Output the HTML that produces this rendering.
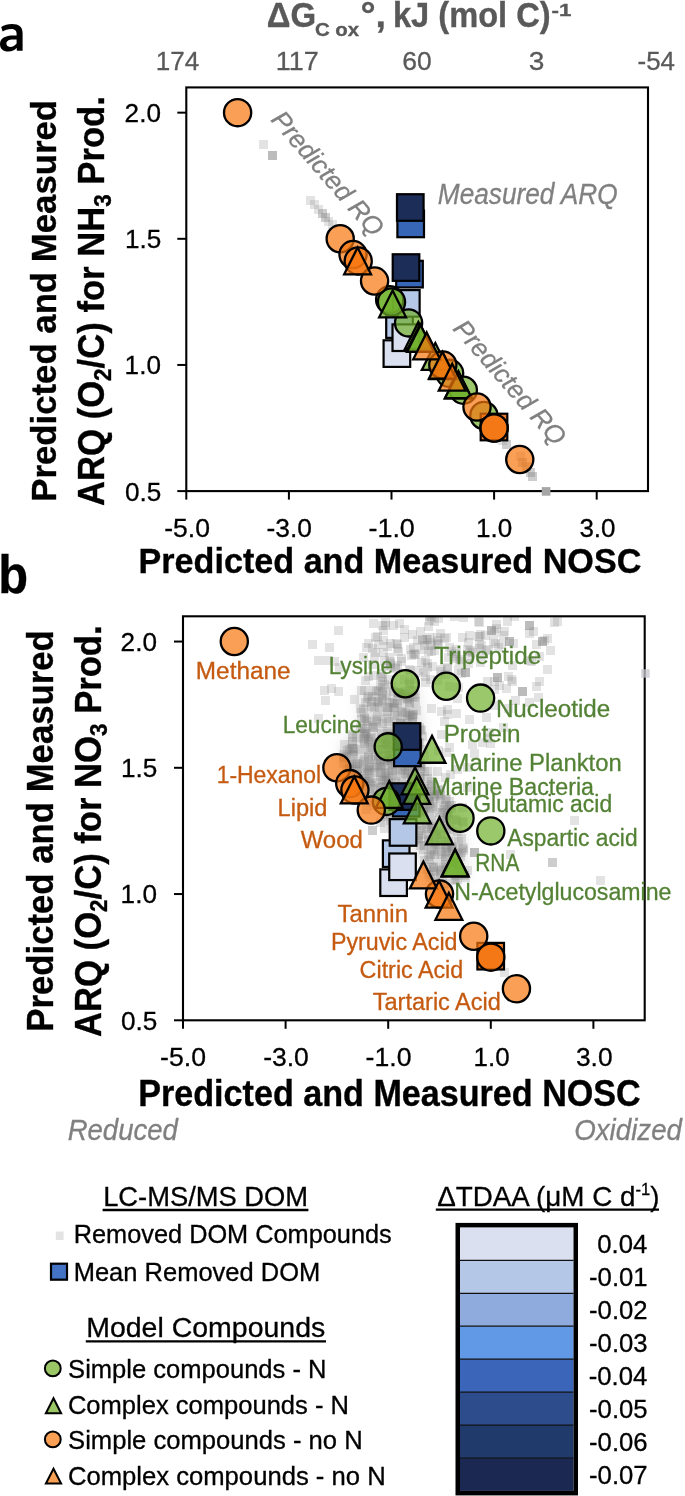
<!DOCTYPE html>
<html><head><meta charset="utf-8"><style>html,body{margin:0;padding:0;background:#fff;}svg{display:block;will-change:transform;}</style></head><body>
<svg width="685" height="1496" viewBox="0 0 685 1496" font-family="'Liberation Sans', sans-serif" style="white-space:pre">
<defs><clipPath id="ca"><rect x="186.30" y="87.42" width="461.70" height="403.68"/></clipPath><clipPath id="cb"><rect x="183.00" y="616.30" width="461.70" height="404.00"/></clipPath><filter id="bl" x="-20%" y="-20%" width="140%" height="140%"><feGaussianBlur stdDeviation="7"/></filter></defs>
<g clip-path="url(#ca)"><rect x="259" y="140" width="9" height="9" fill="#7f7f7f" fill-opacity="0.22"/>
<rect x="268" y="151" width="9" height="9" fill="#7f7f7f" fill-opacity="0.22"/>
<rect x="268" y="151" width="9" height="9" fill="#7f7f7f" fill-opacity="0.22"/>
<rect x="268" y="151" width="9" height="9" fill="#7f7f7f" fill-opacity="0.22"/>
<rect x="306" y="196" width="9" height="9" fill="#7f7f7f" fill-opacity="0.22"/>
<rect x="310" y="200" width="9" height="9" fill="#7f7f7f" fill-opacity="0.22"/>
<rect x="314" y="205" width="9" height="9" fill="#7f7f7f" fill-opacity="0.22"/>
<rect x="318" y="209" width="9" height="9" fill="#7f7f7f" fill-opacity="0.22"/>
<rect x="318" y="209" width="9" height="9" fill="#7f7f7f" fill-opacity="0.22"/>
<rect x="321" y="213" width="9" height="9" fill="#7f7f7f" fill-opacity="0.22"/>
<rect x="321" y="213" width="9" height="9" fill="#7f7f7f" fill-opacity="0.22"/>
<rect x="324" y="217" width="9" height="9" fill="#7f7f7f" fill-opacity="0.22"/>
<rect x="328" y="220" width="9" height="9" fill="#7f7f7f" fill-opacity="0.22"/>
<rect x="516" y="452" width="9" height="9" fill="#7f7f7f" fill-opacity="0.22"/>
<rect x="518" y="458" width="9" height="9" fill="#7f7f7f" fill-opacity="0.22"/>
<rect x="518" y="458" width="9" height="9" fill="#7f7f7f" fill-opacity="0.22"/>
<rect x="522" y="462" width="9" height="9" fill="#7f7f7f" fill-opacity="0.22"/>
<rect x="522" y="462" width="9" height="9" fill="#7f7f7f" fill-opacity="0.22"/>
<rect x="526" y="468" width="9" height="9" fill="#7f7f7f" fill-opacity="0.22"/>
<rect x="526" y="468" width="9" height="9" fill="#7f7f7f" fill-opacity="0.22"/>
<rect x="528" y="472" width="9" height="9" fill="#7f7f7f" fill-opacity="0.22"/>
<rect x="528" y="472" width="9" height="9" fill="#7f7f7f" fill-opacity="0.22"/>
<rect x="502" y="440" width="9" height="9" fill="#7f7f7f" fill-opacity="0.22"/>
<rect x="502" y="440" width="9" height="9" fill="#7f7f7f" fill-opacity="0.22"/>
<rect x="498" y="436" width="9" height="9" fill="#7f7f7f" fill-opacity="0.22"/></g>
<g clip-path="url(#cb)"><polygon points="360,690 416,688 428,770 462,820 466,878 435,887 412,845 382,812 352,788 342,768 342,745 360,728" fill="#8a8a8a" fill-opacity="0.28" filter="url(#bl)"/><rect x="394" y="795" width="9" height="9" fill="#7f7f7f" fill-opacity="0.22"/>
<rect x="400" y="800" width="9" height="9" fill="#7f7f7f" fill-opacity="0.22"/>
<rect x="360" y="785" width="9" height="9" fill="#7f7f7f" fill-opacity="0.22"/>
<rect x="416" y="841" width="9" height="9" fill="#7f7f7f" fill-opacity="0.22"/>
<rect x="349" y="744" width="9" height="9" fill="#7f7f7f" fill-opacity="0.22"/>
<rect x="419" y="806" width="9" height="9" fill="#7f7f7f" fill-opacity="0.22"/>
<rect x="357" y="686" width="9" height="9" fill="#7f7f7f" fill-opacity="0.22"/>
<rect x="403" y="695" width="9" height="9" fill="#7f7f7f" fill-opacity="0.22"/>
<rect x="361" y="732" width="9" height="9" fill="#7f7f7f" fill-opacity="0.22"/>
<rect x="402" y="811" width="9" height="9" fill="#7f7f7f" fill-opacity="0.22"/>
<rect x="399" y="815" width="9" height="9" fill="#7f7f7f" fill-opacity="0.22"/>
<rect x="394" y="739" width="9" height="9" fill="#7f7f7f" fill-opacity="0.22"/>
<rect x="442" y="824" width="9" height="9" fill="#7f7f7f" fill-opacity="0.22"/>
<rect x="377" y="729" width="9" height="9" fill="#7f7f7f" fill-opacity="0.22"/>
<rect x="373" y="697" width="9" height="9" fill="#7f7f7f" fill-opacity="0.22"/>
<rect x="456" y="852" width="9" height="9" fill="#7f7f7f" fill-opacity="0.22"/>
<rect x="348" y="750" width="9" height="9" fill="#7f7f7f" fill-opacity="0.22"/>
<rect x="457" y="834" width="9" height="9" fill="#7f7f7f" fill-opacity="0.22"/>
<rect x="352" y="733" width="9" height="9" fill="#7f7f7f" fill-opacity="0.22"/>
<rect x="407" y="773" width="9" height="9" fill="#7f7f7f" fill-opacity="0.22"/>
<rect x="352" y="767" width="9" height="9" fill="#7f7f7f" fill-opacity="0.22"/>
<rect x="364" y="737" width="9" height="9" fill="#7f7f7f" fill-opacity="0.22"/>
<rect x="458" y="843" width="9" height="9" fill="#7f7f7f" fill-opacity="0.22"/>
<rect x="364" y="762" width="9" height="9" fill="#7f7f7f" fill-opacity="0.22"/>
<rect x="443" y="811" width="9" height="9" fill="#7f7f7f" fill-opacity="0.22"/>
<rect x="364" y="735" width="9" height="9" fill="#7f7f7f" fill-opacity="0.22"/>
<rect x="374" y="698" width="9" height="9" fill="#7f7f7f" fill-opacity="0.22"/>
<rect x="384" y="774" width="9" height="9" fill="#7f7f7f" fill-opacity="0.22"/>
<rect x="360" y="714" width="9" height="9" fill="#7f7f7f" fill-opacity="0.22"/>
<rect x="450" y="846" width="9" height="9" fill="#7f7f7f" fill-opacity="0.22"/>
<rect x="368" y="721" width="9" height="9" fill="#7f7f7f" fill-opacity="0.22"/>
<rect x="429" y="871" width="9" height="9" fill="#7f7f7f" fill-opacity="0.22"/>
<rect x="447" y="804" width="9" height="9" fill="#7f7f7f" fill-opacity="0.22"/>
<rect x="390" y="704" width="9" height="9" fill="#7f7f7f" fill-opacity="0.22"/>
<rect x="411" y="742" width="9" height="9" fill="#7f7f7f" fill-opacity="0.22"/>
<rect x="414" y="739" width="9" height="9" fill="#7f7f7f" fill-opacity="0.22"/>
<rect x="393" y="696" width="9" height="9" fill="#7f7f7f" fill-opacity="0.22"/>
<rect x="359" y="757" width="9" height="9" fill="#7f7f7f" fill-opacity="0.22"/>
<rect x="408" y="710" width="9" height="9" fill="#7f7f7f" fill-opacity="0.22"/>
<rect x="423" y="800" width="9" height="9" fill="#7f7f7f" fill-opacity="0.22"/>
<rect x="397" y="829" width="9" height="9" fill="#7f7f7f" fill-opacity="0.22"/>
<rect x="429" y="863" width="9" height="9" fill="#7f7f7f" fill-opacity="0.22"/>
<rect x="429" y="824" width="9" height="9" fill="#7f7f7f" fill-opacity="0.22"/>
<rect x="436" y="866" width="9" height="9" fill="#7f7f7f" fill-opacity="0.22"/>
<rect x="449" y="857" width="9" height="9" fill="#7f7f7f" fill-opacity="0.22"/>
<rect x="445" y="797" width="9" height="9" fill="#7f7f7f" fill-opacity="0.22"/>
<rect x="415" y="760" width="9" height="9" fill="#7f7f7f" fill-opacity="0.22"/>
<rect x="410" y="805" width="9" height="9" fill="#7f7f7f" fill-opacity="0.22"/>
<rect x="429" y="799" width="9" height="9" fill="#7f7f7f" fill-opacity="0.22"/>
<rect x="397" y="729" width="9" height="9" fill="#7f7f7f" fill-opacity="0.22"/>
<rect x="424" y="782" width="9" height="9" fill="#7f7f7f" fill-opacity="0.22"/>
<rect x="369" y="686" width="9" height="9" fill="#7f7f7f" fill-opacity="0.22"/>
<rect x="363" y="717" width="9" height="9" fill="#7f7f7f" fill-opacity="0.22"/>
<rect x="450" y="815" width="9" height="9" fill="#7f7f7f" fill-opacity="0.22"/>
<rect x="362" y="769" width="9" height="9" fill="#7f7f7f" fill-opacity="0.22"/>
<rect x="437" y="865" width="9" height="9" fill="#7f7f7f" fill-opacity="0.22"/>
<rect x="410" y="746" width="9" height="9" fill="#7f7f7f" fill-opacity="0.22"/>
<rect x="354" y="782" width="9" height="9" fill="#7f7f7f" fill-opacity="0.22"/>
<rect x="441" y="852" width="9" height="9" fill="#7f7f7f" fill-opacity="0.22"/>
<rect x="426" y="873" width="9" height="9" fill="#7f7f7f" fill-opacity="0.22"/>
<rect x="372" y="717" width="9" height="9" fill="#7f7f7f" fill-opacity="0.22"/>
<rect x="393" y="738" width="9" height="9" fill="#7f7f7f" fill-opacity="0.22"/>
<rect x="364" y="766" width="9" height="9" fill="#7f7f7f" fill-opacity="0.22"/>
<rect x="415" y="782" width="9" height="9" fill="#7f7f7f" fill-opacity="0.22"/>
<rect x="425" y="797" width="9" height="9" fill="#7f7f7f" fill-opacity="0.22"/>
<rect x="394" y="688" width="9" height="9" fill="#7f7f7f" fill-opacity="0.22"/>
<rect x="416" y="772" width="9" height="9" fill="#7f7f7f" fill-opacity="0.22"/>
<rect x="416" y="814" width="9" height="9" fill="#7f7f7f" fill-opacity="0.22"/>
<rect x="438" y="874" width="9" height="9" fill="#7f7f7f" fill-opacity="0.22"/>
<rect x="396" y="719" width="9" height="9" fill="#7f7f7f" fill-opacity="0.22"/>
<rect x="371" y="752" width="9" height="9" fill="#7f7f7f" fill-opacity="0.22"/>
<rect x="424" y="787" width="9" height="9" fill="#7f7f7f" fill-opacity="0.22"/>
<rect x="414" y="834" width="9" height="9" fill="#7f7f7f" fill-opacity="0.22"/>
<rect x="453" y="827" width="9" height="9" fill="#7f7f7f" fill-opacity="0.22"/>
<rect x="354" y="774" width="9" height="9" fill="#7f7f7f" fill-opacity="0.22"/>
<rect x="384" y="797" width="9" height="9" fill="#7f7f7f" fill-opacity="0.22"/>
<rect x="447" y="842" width="9" height="9" fill="#7f7f7f" fill-opacity="0.22"/>
<rect x="427" y="846" width="9" height="9" fill="#7f7f7f" fill-opacity="0.22"/>
<rect x="417" y="826" width="9" height="9" fill="#7f7f7f" fill-opacity="0.22"/>
<rect x="348" y="771" width="9" height="9" fill="#7f7f7f" fill-opacity="0.22"/>
<rect x="406" y="836" width="9" height="9" fill="#7f7f7f" fill-opacity="0.22"/>
<rect x="398" y="689" width="9" height="9" fill="#7f7f7f" fill-opacity="0.22"/>
<rect x="402" y="827" width="9" height="9" fill="#7f7f7f" fill-opacity="0.22"/>
<rect x="442" y="821" width="9" height="9" fill="#7f7f7f" fill-opacity="0.22"/>
<rect x="365" y="788" width="9" height="9" fill="#7f7f7f" fill-opacity="0.22"/>
<rect x="417" y="788" width="9" height="9" fill="#7f7f7f" fill-opacity="0.22"/>
<rect x="442" y="795" width="9" height="9" fill="#7f7f7f" fill-opacity="0.22"/>
<rect x="376" y="759" width="9" height="9" fill="#7f7f7f" fill-opacity="0.22"/>
<rect x="442" y="863" width="9" height="9" fill="#7f7f7f" fill-opacity="0.22"/>
<rect x="409" y="723" width="9" height="9" fill="#7f7f7f" fill-opacity="0.22"/>
<rect x="404" y="784" width="9" height="9" fill="#7f7f7f" fill-opacity="0.22"/>
<rect x="407" y="781" width="9" height="9" fill="#7f7f7f" fill-opacity="0.22"/>
<rect x="404" y="766" width="9" height="9" fill="#7f7f7f" fill-opacity="0.22"/>
<rect x="456" y="867" width="9" height="9" fill="#7f7f7f" fill-opacity="0.22"/>
<rect x="371" y="778" width="9" height="9" fill="#7f7f7f" fill-opacity="0.22"/>
<rect x="353" y="770" width="9" height="9" fill="#7f7f7f" fill-opacity="0.22"/>
<rect x="439" y="863" width="9" height="9" fill="#7f7f7f" fill-opacity="0.22"/>
<rect x="397" y="747" width="9" height="9" fill="#7f7f7f" fill-opacity="0.22"/>
<rect x="362" y="729" width="9" height="9" fill="#7f7f7f" fill-opacity="0.22"/>
<rect x="382" y="807" width="9" height="9" fill="#7f7f7f" fill-opacity="0.22"/>
<rect x="353" y="785" width="9" height="9" fill="#7f7f7f" fill-opacity="0.22"/>
<rect x="369" y="723" width="9" height="9" fill="#7f7f7f" fill-opacity="0.22"/>
<rect x="403" y="770" width="9" height="9" fill="#7f7f7f" fill-opacity="0.22"/>
<rect x="384" y="766" width="9" height="9" fill="#7f7f7f" fill-opacity="0.22"/>
<rect x="403" y="715" width="9" height="9" fill="#7f7f7f" fill-opacity="0.22"/>
<rect x="417" y="789" width="9" height="9" fill="#7f7f7f" fill-opacity="0.22"/>
<rect x="443" y="805" width="9" height="9" fill="#7f7f7f" fill-opacity="0.22"/>
<rect x="429" y="845" width="9" height="9" fill="#7f7f7f" fill-opacity="0.22"/>
<rect x="370" y="703" width="9" height="9" fill="#7f7f7f" fill-opacity="0.22"/>
<rect x="422" y="865" width="9" height="9" fill="#7f7f7f" fill-opacity="0.22"/>
<rect x="400" y="820" width="9" height="9" fill="#7f7f7f" fill-opacity="0.22"/>
<rect x="361" y="698" width="9" height="9" fill="#7f7f7f" fill-opacity="0.22"/>
<rect x="406" y="786" width="9" height="9" fill="#7f7f7f" fill-opacity="0.22"/>
<rect x="408" y="713" width="9" height="9" fill="#7f7f7f" fill-opacity="0.22"/>
<rect x="360" y="724" width="9" height="9" fill="#7f7f7f" fill-opacity="0.22"/>
<rect x="378" y="776" width="9" height="9" fill="#7f7f7f" fill-opacity="0.22"/>
<rect x="401" y="769" width="9" height="9" fill="#7f7f7f" fill-opacity="0.22"/>
<rect x="424" y="852" width="9" height="9" fill="#7f7f7f" fill-opacity="0.22"/>
<rect x="360" y="774" width="9" height="9" fill="#7f7f7f" fill-opacity="0.22"/>
<rect x="362" y="716" width="9" height="9" fill="#7f7f7f" fill-opacity="0.22"/>
<rect x="401" y="687" width="9" height="9" fill="#7f7f7f" fill-opacity="0.22"/>
<rect x="448" y="843" width="9" height="9" fill="#7f7f7f" fill-opacity="0.22"/>
<rect x="425" y="855" width="9" height="9" fill="#7f7f7f" fill-opacity="0.22"/>
<rect x="416" y="764" width="9" height="9" fill="#7f7f7f" fill-opacity="0.22"/>
<rect x="412" y="784" width="9" height="9" fill="#7f7f7f" fill-opacity="0.22"/>
<rect x="459" y="844" width="9" height="9" fill="#7f7f7f" fill-opacity="0.22"/>
<rect x="430" y="838" width="9" height="9" fill="#7f7f7f" fill-opacity="0.22"/>
<rect x="449" y="859" width="9" height="9" fill="#7f7f7f" fill-opacity="0.22"/>
<rect x="424" y="836" width="9" height="9" fill="#7f7f7f" fill-opacity="0.22"/>
<rect x="380" y="777" width="9" height="9" fill="#7f7f7f" fill-opacity="0.22"/>
<rect x="339" y="754" width="9" height="9" fill="#7f7f7f" fill-opacity="0.22"/>
<rect x="417" y="808" width="9" height="9" fill="#7f7f7f" fill-opacity="0.22"/>
<rect x="420" y="751" width="9" height="9" fill="#7f7f7f" fill-opacity="0.22"/>
<rect x="419" y="797" width="9" height="9" fill="#7f7f7f" fill-opacity="0.22"/>
<rect x="404" y="761" width="9" height="9" fill="#7f7f7f" fill-opacity="0.22"/>
<rect x="424" y="835" width="9" height="9" fill="#7f7f7f" fill-opacity="0.22"/>
<rect x="414" y="831" width="9" height="9" fill="#7f7f7f" fill-opacity="0.22"/>
<rect x="369" y="763" width="9" height="9" fill="#7f7f7f" fill-opacity="0.22"/>
<rect x="384" y="703" width="9" height="9" fill="#7f7f7f" fill-opacity="0.22"/>
<rect x="406" y="785" width="9" height="9" fill="#7f7f7f" fill-opacity="0.22"/>
<rect x="412" y="835" width="9" height="9" fill="#7f7f7f" fill-opacity="0.22"/>
<rect x="357" y="777" width="9" height="9" fill="#7f7f7f" fill-opacity="0.22"/>
<rect x="358" y="782" width="9" height="9" fill="#7f7f7f" fill-opacity="0.22"/>
<rect x="403" y="802" width="9" height="9" fill="#7f7f7f" fill-opacity="0.22"/>
<rect x="383" y="740" width="9" height="9" fill="#7f7f7f" fill-opacity="0.22"/>
<rect x="419" y="795" width="9" height="9" fill="#7f7f7f" fill-opacity="0.22"/>
<rect x="374" y="686" width="9" height="9" fill="#7f7f7f" fill-opacity="0.22"/>
<rect x="368" y="692" width="9" height="9" fill="#7f7f7f" fill-opacity="0.22"/>
<rect x="460" y="871" width="9" height="9" fill="#7f7f7f" fill-opacity="0.22"/>
<rect x="391" y="779" width="9" height="9" fill="#7f7f7f" fill-opacity="0.22"/>
<rect x="427" y="777" width="9" height="9" fill="#7f7f7f" fill-opacity="0.22"/>
<rect x="459" y="846" width="9" height="9" fill="#7f7f7f" fill-opacity="0.22"/>
<rect x="412" y="706" width="9" height="9" fill="#7f7f7f" fill-opacity="0.22"/>
<rect x="415" y="774" width="9" height="9" fill="#7f7f7f" fill-opacity="0.22"/>
<rect x="363" y="694" width="9" height="9" fill="#7f7f7f" fill-opacity="0.22"/>
<rect x="403" y="708" width="9" height="9" fill="#7f7f7f" fill-opacity="0.22"/>
<rect x="392" y="816" width="9" height="9" fill="#7f7f7f" fill-opacity="0.22"/>
<rect x="394" y="736" width="9" height="9" fill="#7f7f7f" fill-opacity="0.22"/>
<rect x="410" y="767" width="9" height="9" fill="#7f7f7f" fill-opacity="0.22"/>
<rect x="434" y="789" width="9" height="9" fill="#7f7f7f" fill-opacity="0.22"/>
<rect x="461" y="873" width="9" height="9" fill="#7f7f7f" fill-opacity="0.22"/>
<rect x="435" y="808" width="9" height="9" fill="#7f7f7f" fill-opacity="0.22"/>
<rect x="382" y="738" width="9" height="9" fill="#7f7f7f" fill-opacity="0.22"/>
<rect x="422" y="796" width="9" height="9" fill="#7f7f7f" fill-opacity="0.22"/>
<rect x="411" y="809" width="9" height="9" fill="#7f7f7f" fill-opacity="0.22"/>
<rect x="451" y="858" width="9" height="9" fill="#7f7f7f" fill-opacity="0.22"/>
<rect x="371" y="768" width="9" height="9" fill="#7f7f7f" fill-opacity="0.22"/>
<rect x="405" y="698" width="9" height="9" fill="#7f7f7f" fill-opacity="0.22"/>
<rect x="406" y="809" width="9" height="9" fill="#7f7f7f" fill-opacity="0.22"/>
<rect x="384" y="779" width="9" height="9" fill="#7f7f7f" fill-opacity="0.22"/>
<rect x="364" y="752" width="9" height="9" fill="#7f7f7f" fill-opacity="0.22"/>
<rect x="430" y="850" width="9" height="9" fill="#7f7f7f" fill-opacity="0.22"/>
<rect x="438" y="808" width="9" height="9" fill="#7f7f7f" fill-opacity="0.22"/>
<rect x="390" y="735" width="9" height="9" fill="#7f7f7f" fill-opacity="0.22"/>
<rect x="378" y="793" width="9" height="9" fill="#7f7f7f" fill-opacity="0.22"/>
<rect x="430" y="867" width="9" height="9" fill="#7f7f7f" fill-opacity="0.22"/>
<rect x="391" y="757" width="9" height="9" fill="#7f7f7f" fill-opacity="0.22"/>
<rect x="407" y="780" width="9" height="9" fill="#7f7f7f" fill-opacity="0.22"/>
<rect x="348" y="744" width="9" height="9" fill="#7f7f7f" fill-opacity="0.22"/>
<rect x="427" y="822" width="9" height="9" fill="#7f7f7f" fill-opacity="0.22"/>
<rect x="373" y="712" width="9" height="9" fill="#7f7f7f" fill-opacity="0.22"/>
<rect x="383" y="707" width="9" height="9" fill="#7f7f7f" fill-opacity="0.22"/>
<rect x="425" y="797" width="9" height="9" fill="#7f7f7f" fill-opacity="0.22"/>
<rect x="451" y="871" width="9" height="9" fill="#7f7f7f" fill-opacity="0.22"/>
<rect x="377" y="763" width="9" height="9" fill="#7f7f7f" fill-opacity="0.22"/>
<rect x="453" y="862" width="9" height="9" fill="#7f7f7f" fill-opacity="0.22"/>
<rect x="368" y="755" width="9" height="9" fill="#7f7f7f" fill-opacity="0.22"/>
<rect x="383" y="756" width="9" height="9" fill="#7f7f7f" fill-opacity="0.22"/>
<rect x="387" y="761" width="9" height="9" fill="#7f7f7f" fill-opacity="0.22"/>
<rect x="436" y="791" width="9" height="9" fill="#7f7f7f" fill-opacity="0.22"/>
<rect x="441" y="795" width="9" height="9" fill="#7f7f7f" fill-opacity="0.22"/>
<rect x="405" y="796" width="9" height="9" fill="#7f7f7f" fill-opacity="0.22"/>
<rect x="429" y="862" width="9" height="9" fill="#7f7f7f" fill-opacity="0.22"/>
<rect x="418" y="732" width="9" height="9" fill="#7f7f7f" fill-opacity="0.22"/>
<rect x="386" y="751" width="9" height="9" fill="#7f7f7f" fill-opacity="0.22"/>
<rect x="458" y="817" width="9" height="9" fill="#7f7f7f" fill-opacity="0.22"/>
<rect x="399" y="790" width="9" height="9" fill="#7f7f7f" fill-opacity="0.22"/>
<rect x="427" y="824" width="9" height="9" fill="#7f7f7f" fill-opacity="0.22"/>
<rect x="440" y="816" width="9" height="9" fill="#7f7f7f" fill-opacity="0.22"/>
<rect x="443" y="844" width="9" height="9" fill="#7f7f7f" fill-opacity="0.22"/>
<rect x="441" y="860" width="9" height="9" fill="#7f7f7f" fill-opacity="0.22"/>
<rect x="402" y="825" width="9" height="9" fill="#7f7f7f" fill-opacity="0.22"/>
<rect x="390" y="713" width="9" height="9" fill="#7f7f7f" fill-opacity="0.22"/>
<rect x="384" y="717" width="9" height="9" fill="#7f7f7f" fill-opacity="0.22"/>
<rect x="363" y="768" width="9" height="9" fill="#7f7f7f" fill-opacity="0.22"/>
<rect x="345" y="745" width="9" height="9" fill="#7f7f7f" fill-opacity="0.22"/>
<rect x="345" y="775" width="9" height="9" fill="#7f7f7f" fill-opacity="0.22"/>
<rect x="360" y="727" width="9" height="9" fill="#7f7f7f" fill-opacity="0.22"/>
<rect x="411" y="728" width="9" height="9" fill="#7f7f7f" fill-opacity="0.22"/>
<rect x="360" y="739" width="9" height="9" fill="#7f7f7f" fill-opacity="0.22"/>
<rect x="376" y="793" width="9" height="9" fill="#7f7f7f" fill-opacity="0.22"/>
<rect x="397" y="727" width="9" height="9" fill="#7f7f7f" fill-opacity="0.22"/>
<rect x="403" y="786" width="9" height="9" fill="#7f7f7f" fill-opacity="0.22"/>
<rect x="426" y="804" width="9" height="9" fill="#7f7f7f" fill-opacity="0.22"/>
<rect x="357" y="715" width="9" height="9" fill="#7f7f7f" fill-opacity="0.22"/>
<rect x="377" y="735" width="9" height="9" fill="#7f7f7f" fill-opacity="0.22"/>
<rect x="371" y="790" width="9" height="9" fill="#7f7f7f" fill-opacity="0.22"/>
<rect x="442" y="847" width="9" height="9" fill="#7f7f7f" fill-opacity="0.22"/>
<rect x="348" y="737" width="9" height="9" fill="#7f7f7f" fill-opacity="0.22"/>
<rect x="397" y="777" width="9" height="9" fill="#7f7f7f" fill-opacity="0.22"/>
<rect x="405" y="788" width="9" height="9" fill="#7f7f7f" fill-opacity="0.22"/>
<rect x="376" y="745" width="9" height="9" fill="#7f7f7f" fill-opacity="0.22"/>
<rect x="347" y="744" width="9" height="9" fill="#7f7f7f" fill-opacity="0.22"/>
<rect x="395" y="826" width="9" height="9" fill="#7f7f7f" fill-opacity="0.22"/>
<rect x="351" y="762" width="9" height="9" fill="#7f7f7f" fill-opacity="0.22"/>
<rect x="440" y="814" width="9" height="9" fill="#7f7f7f" fill-opacity="0.22"/>
<rect x="339" y="759" width="9" height="9" fill="#7f7f7f" fill-opacity="0.22"/>
<rect x="407" y="775" width="9" height="9" fill="#7f7f7f" fill-opacity="0.22"/>
<rect x="414" y="741" width="9" height="9" fill="#7f7f7f" fill-opacity="0.22"/>
<rect x="384" y="791" width="9" height="9" fill="#7f7f7f" fill-opacity="0.22"/>
<rect x="374" y="751" width="9" height="9" fill="#7f7f7f" fill-opacity="0.22"/>
<rect x="386" y="816" width="9" height="9" fill="#7f7f7f" fill-opacity="0.22"/>
<rect x="369" y="723" width="9" height="9" fill="#7f7f7f" fill-opacity="0.22"/>
<rect x="422" y="824" width="9" height="9" fill="#7f7f7f" fill-opacity="0.22"/>
<rect x="360" y="764" width="9" height="9" fill="#7f7f7f" fill-opacity="0.22"/>
<rect x="441" y="801" width="9" height="9" fill="#7f7f7f" fill-opacity="0.22"/>
<rect x="357" y="708" width="9" height="9" fill="#7f7f7f" fill-opacity="0.22"/>
<rect x="388" y="698" width="9" height="9" fill="#7f7f7f" fill-opacity="0.22"/>
<rect x="401" y="812" width="9" height="9" fill="#7f7f7f" fill-opacity="0.22"/>
<rect x="433" y="847" width="9" height="9" fill="#7f7f7f" fill-opacity="0.22"/>
<rect x="385" y="749" width="9" height="9" fill="#7f7f7f" fill-opacity="0.22"/>
<rect x="389" y="687" width="9" height="9" fill="#7f7f7f" fill-opacity="0.22"/>
<rect x="419" y="805" width="9" height="9" fill="#7f7f7f" fill-opacity="0.22"/>
<rect x="340" y="749" width="9" height="9" fill="#7f7f7f" fill-opacity="0.22"/>
<rect x="351" y="759" width="9" height="9" fill="#7f7f7f" fill-opacity="0.22"/>
<rect x="440" y="805" width="9" height="9" fill="#7f7f7f" fill-opacity="0.22"/>
<rect x="381" y="783" width="9" height="9" fill="#7f7f7f" fill-opacity="0.22"/>
<rect x="426" y="850" width="9" height="9" fill="#7f7f7f" fill-opacity="0.22"/>
<rect x="415" y="723" width="9" height="9" fill="#7f7f7f" fill-opacity="0.22"/>
<rect x="348" y="732" width="9" height="9" fill="#7f7f7f" fill-opacity="0.22"/>
<rect x="409" y="822" width="9" height="9" fill="#7f7f7f" fill-opacity="0.22"/>
<rect x="382" y="776" width="9" height="9" fill="#7f7f7f" fill-opacity="0.22"/>
<rect x="405" y="795" width="9" height="9" fill="#7f7f7f" fill-opacity="0.22"/>
<rect x="407" y="736" width="9" height="9" fill="#7f7f7f" fill-opacity="0.22"/>
<rect x="439" y="803" width="9" height="9" fill="#7f7f7f" fill-opacity="0.22"/>
<rect x="367" y="798" width="9" height="9" fill="#7f7f7f" fill-opacity="0.22"/>
<rect x="405" y="699" width="9" height="9" fill="#7f7f7f" fill-opacity="0.22"/>
<rect x="460" y="870" width="9" height="9" fill="#7f7f7f" fill-opacity="0.22"/>
<rect x="419" y="745" width="9" height="9" fill="#7f7f7f" fill-opacity="0.22"/>
<rect x="421" y="830" width="9" height="9" fill="#7f7f7f" fill-opacity="0.22"/>
<rect x="385" y="801" width="9" height="9" fill="#7f7f7f" fill-opacity="0.22"/>
<rect x="362" y="777" width="9" height="9" fill="#7f7f7f" fill-opacity="0.22"/>
<rect x="355" y="760" width="9" height="9" fill="#7f7f7f" fill-opacity="0.22"/>
<rect x="408" y="718" width="9" height="9" fill="#7f7f7f" fill-opacity="0.22"/>
<rect x="402" y="736" width="9" height="9" fill="#7f7f7f" fill-opacity="0.22"/>
<rect x="408" y="750" width="9" height="9" fill="#7f7f7f" fill-opacity="0.22"/>
<rect x="396" y="765" width="9" height="9" fill="#7f7f7f" fill-opacity="0.22"/>
<rect x="415" y="821" width="9" height="9" fill="#7f7f7f" fill-opacity="0.22"/>
<rect x="431" y="833" width="9" height="9" fill="#7f7f7f" fill-opacity="0.22"/>
<rect x="441" y="854" width="9" height="9" fill="#7f7f7f" fill-opacity="0.22"/>
<rect x="388" y="770" width="9" height="9" fill="#7f7f7f" fill-opacity="0.22"/>
<rect x="403" y="788" width="9" height="9" fill="#7f7f7f" fill-opacity="0.22"/>
<rect x="377" y="694" width="9" height="9" fill="#7f7f7f" fill-opacity="0.22"/>
<rect x="427" y="863" width="9" height="9" fill="#7f7f7f" fill-opacity="0.22"/>
<rect x="428" y="802" width="9" height="9" fill="#7f7f7f" fill-opacity="0.22"/>
<rect x="411" y="697" width="9" height="9" fill="#7f7f7f" fill-opacity="0.22"/>
<rect x="353" y="772" width="9" height="9" fill="#7f7f7f" fill-opacity="0.22"/>
<rect x="400" y="762" width="9" height="9" fill="#7f7f7f" fill-opacity="0.22"/>
<rect x="403" y="731" width="9" height="9" fill="#7f7f7f" fill-opacity="0.22"/>
<rect x="375" y="762" width="9" height="9" fill="#7f7f7f" fill-opacity="0.22"/>
<rect x="367" y="697" width="9" height="9" fill="#7f7f7f" fill-opacity="0.22"/>
<rect x="451" y="876" width="9" height="9" fill="#7f7f7f" fill-opacity="0.22"/>
<rect x="420" y="856" width="9" height="9" fill="#7f7f7f" fill-opacity="0.22"/>
<rect x="368" y="743" width="9" height="9" fill="#7f7f7f" fill-opacity="0.22"/>
<rect x="378" y="696" width="9" height="9" fill="#7f7f7f" fill-opacity="0.22"/>
<rect x="448" y="846" width="9" height="9" fill="#7f7f7f" fill-opacity="0.22"/>
<rect x="387" y="754" width="9" height="9" fill="#7f7f7f" fill-opacity="0.22"/>
<rect x="410" y="693" width="9" height="9" fill="#7f7f7f" fill-opacity="0.22"/>
<rect x="376" y="783" width="9" height="9" fill="#7f7f7f" fill-opacity="0.22"/>
<rect x="396" y="725" width="9" height="9" fill="#7f7f7f" fill-opacity="0.22"/>
<rect x="396" y="718" width="9" height="9" fill="#7f7f7f" fill-opacity="0.22"/>
<rect x="449" y="857" width="9" height="9" fill="#7f7f7f" fill-opacity="0.22"/>
<rect x="424" y="870" width="9" height="9" fill="#7f7f7f" fill-opacity="0.22"/>
<rect x="393" y="699" width="9" height="9" fill="#7f7f7f" fill-opacity="0.22"/>
<rect x="365" y="745" width="9" height="9" fill="#7f7f7f" fill-opacity="0.22"/>
<rect x="360" y="730" width="9" height="9" fill="#7f7f7f" fill-opacity="0.22"/>
<rect x="420" y="841" width="9" height="9" fill="#7f7f7f" fill-opacity="0.22"/>
<rect x="447" y="801" width="9" height="9" fill="#7f7f7f" fill-opacity="0.22"/>
<rect x="366" y="743" width="9" height="9" fill="#7f7f7f" fill-opacity="0.22"/>
<rect x="452" y="816" width="9" height="9" fill="#7f7f7f" fill-opacity="0.22"/>
<rect x="392" y="789" width="9" height="9" fill="#7f7f7f" fill-opacity="0.22"/>
<rect x="403" y="693" width="9" height="9" fill="#7f7f7f" fill-opacity="0.22"/>
<rect x="412" y="740" width="9" height="9" fill="#7f7f7f" fill-opacity="0.22"/>
<rect x="348" y="740" width="9" height="9" fill="#7f7f7f" fill-opacity="0.22"/>
<rect x="372" y="793" width="9" height="9" fill="#7f7f7f" fill-opacity="0.22"/>
<rect x="399" y="719" width="9" height="9" fill="#7f7f7f" fill-opacity="0.22"/>
<rect x="406" y="812" width="9" height="9" fill="#7f7f7f" fill-opacity="0.22"/>
<rect x="435" y="786" width="9" height="9" fill="#7f7f7f" fill-opacity="0.22"/>
<rect x="422" y="787" width="9" height="9" fill="#7f7f7f" fill-opacity="0.22"/>
<rect x="413" y="730" width="9" height="9" fill="#7f7f7f" fill-opacity="0.22"/>
<rect x="435" y="841" width="9" height="9" fill="#7f7f7f" fill-opacity="0.22"/>
<rect x="367" y="781" width="9" height="9" fill="#7f7f7f" fill-opacity="0.22"/>
<rect x="399" y="691" width="9" height="9" fill="#7f7f7f" fill-opacity="0.22"/>
<rect x="412" y="826" width="9" height="9" fill="#7f7f7f" fill-opacity="0.22"/>
<rect x="360" y="714" width="9" height="9" fill="#7f7f7f" fill-opacity="0.22"/>
<rect x="391" y="771" width="9" height="9" fill="#7f7f7f" fill-opacity="0.22"/>
<rect x="408" y="792" width="9" height="9" fill="#7f7f7f" fill-opacity="0.22"/>
<rect x="356" y="745" width="9" height="9" fill="#7f7f7f" fill-opacity="0.22"/>
<rect x="343" y="746" width="9" height="9" fill="#7f7f7f" fill-opacity="0.22"/>
<rect x="415" y="788" width="9" height="9" fill="#7f7f7f" fill-opacity="0.22"/>
<rect x="370" y="801" width="9" height="9" fill="#7f7f7f" fill-opacity="0.22"/>
<rect x="359" y="734" width="9" height="9" fill="#7f7f7f" fill-opacity="0.22"/>
<rect x="441" y="840" width="9" height="9" fill="#7f7f7f" fill-opacity="0.22"/>
<rect x="345" y="765" width="9" height="9" fill="#7f7f7f" fill-opacity="0.22"/>
<rect x="383" y="727" width="9" height="9" fill="#7f7f7f" fill-opacity="0.22"/>
<rect x="386" y="743" width="9" height="9" fill="#7f7f7f" fill-opacity="0.22"/>
<rect x="390" y="699" width="9" height="9" fill="#7f7f7f" fill-opacity="0.22"/>
<rect x="432" y="830" width="9" height="9" fill="#7f7f7f" fill-opacity="0.22"/>
<rect x="366" y="734" width="9" height="9" fill="#7f7f7f" fill-opacity="0.22"/>
<rect x="406" y="732" width="9" height="9" fill="#7f7f7f" fill-opacity="0.22"/>
<rect x="383" y="751" width="9" height="9" fill="#7f7f7f" fill-opacity="0.22"/>
<rect x="342" y="764" width="9" height="9" fill="#7f7f7f" fill-opacity="0.22"/>
<rect x="445" y="801" width="9" height="9" fill="#7f7f7f" fill-opacity="0.22"/>
<rect x="364" y="753" width="9" height="9" fill="#7f7f7f" fill-opacity="0.22"/>
<rect x="360" y="793" width="9" height="9" fill="#7f7f7f" fill-opacity="0.22"/>
<rect x="358" y="724" width="9" height="9" fill="#7f7f7f" fill-opacity="0.22"/>
<rect x="364" y="777" width="9" height="9" fill="#7f7f7f" fill-opacity="0.22"/>
<rect x="376" y="772" width="9" height="9" fill="#7f7f7f" fill-opacity="0.22"/>
<rect x="385" y="698" width="9" height="9" fill="#7f7f7f" fill-opacity="0.22"/>
<rect x="372" y="687" width="9" height="9" fill="#7f7f7f" fill-opacity="0.22"/>
<rect x="360" y="736" width="9" height="9" fill="#7f7f7f" fill-opacity="0.22"/>
<rect x="382" y="714" width="9" height="9" fill="#7f7f7f" fill-opacity="0.22"/>
<rect x="432" y="827" width="9" height="9" fill="#7f7f7f" fill-opacity="0.22"/>
<rect x="377" y="760" width="9" height="9" fill="#7f7f7f" fill-opacity="0.22"/>
<rect x="402" y="694" width="9" height="9" fill="#7f7f7f" fill-opacity="0.22"/>
<rect x="386" y="731" width="9" height="9" fill="#7f7f7f" fill-opacity="0.22"/>
<rect x="411" y="690" width="9" height="9" fill="#7f7f7f" fill-opacity="0.22"/>
<rect x="376" y="768" width="9" height="9" fill="#7f7f7f" fill-opacity="0.22"/>
<rect x="405" y="711" width="9" height="9" fill="#7f7f7f" fill-opacity="0.22"/>
<rect x="427" y="816" width="9" height="9" fill="#7f7f7f" fill-opacity="0.22"/>
<rect x="356" y="724" width="9" height="9" fill="#7f7f7f" fill-opacity="0.22"/>
<rect x="388" y="760" width="9" height="9" fill="#7f7f7f" fill-opacity="0.22"/>
<rect x="374" y="752" width="9" height="9" fill="#7f7f7f" fill-opacity="0.22"/>
<rect x="364" y="692" width="9" height="9" fill="#7f7f7f" fill-opacity="0.22"/>
<rect x="391" y="762" width="9" height="9" fill="#7f7f7f" fill-opacity="0.22"/>
<rect x="345" y="760" width="9" height="9" fill="#7f7f7f" fill-opacity="0.22"/>
<rect x="378" y="782" width="9" height="9" fill="#7f7f7f" fill-opacity="0.22"/>
<rect x="372" y="715" width="9" height="9" fill="#7f7f7f" fill-opacity="0.22"/>
<rect x="387" y="778" width="9" height="9" fill="#7f7f7f" fill-opacity="0.22"/>
<rect x="367" y="702" width="9" height="9" fill="#7f7f7f" fill-opacity="0.22"/>
<rect x="380" y="768" width="9" height="9" fill="#7f7f7f" fill-opacity="0.22"/>
<rect x="424" y="794" width="9" height="9" fill="#7f7f7f" fill-opacity="0.22"/>
<rect x="386" y="756" width="9" height="9" fill="#7f7f7f" fill-opacity="0.22"/>
<rect x="345" y="764" width="9" height="9" fill="#7f7f7f" fill-opacity="0.22"/>
<rect x="410" y="777" width="9" height="9" fill="#7f7f7f" fill-opacity="0.22"/>
<rect x="378" y="734" width="9" height="9" fill="#7f7f7f" fill-opacity="0.22"/>
<rect x="340" y="753" width="9" height="9" fill="#7f7f7f" fill-opacity="0.22"/>
<rect x="361" y="777" width="9" height="9" fill="#7f7f7f" fill-opacity="0.22"/>
<rect x="382" y="798" width="9" height="9" fill="#7f7f7f" fill-opacity="0.22"/>
<rect x="454" y="837" width="9" height="9" fill="#7f7f7f" fill-opacity="0.22"/>
<rect x="415" y="807" width="9" height="9" fill="#7f7f7f" fill-opacity="0.22"/>
<rect x="388" y="766" width="9" height="9" fill="#7f7f7f" fill-opacity="0.22"/>
<rect x="354" y="784" width="9" height="9" fill="#7f7f7f" fill-opacity="0.22"/>
<rect x="376" y="755" width="9" height="9" fill="#7f7f7f" fill-opacity="0.22"/>
<rect x="361" y="729" width="9" height="9" fill="#7f7f7f" fill-opacity="0.22"/>
<rect x="386" y="731" width="9" height="9" fill="#7f7f7f" fill-opacity="0.22"/>
<rect x="399" y="813" width="9" height="9" fill="#7f7f7f" fill-opacity="0.22"/>
<rect x="405" y="808" width="9" height="9" fill="#7f7f7f" fill-opacity="0.22"/>
<rect x="424" y="820" width="9" height="9" fill="#7f7f7f" fill-opacity="0.22"/>
<rect x="457" y="848" width="9" height="9" fill="#7f7f7f" fill-opacity="0.22"/>
<rect x="398" y="796" width="9" height="9" fill="#7f7f7f" fill-opacity="0.22"/>
<rect x="383" y="740" width="9" height="9" fill="#7f7f7f" fill-opacity="0.22"/>
<rect x="430" y="790" width="9" height="9" fill="#7f7f7f" fill-opacity="0.22"/>
<rect x="367" y="733" width="9" height="9" fill="#7f7f7f" fill-opacity="0.22"/>
<rect x="378" y="719" width="9" height="9" fill="#7f7f7f" fill-opacity="0.22"/>
<rect x="401" y="709" width="9" height="9" fill="#7f7f7f" fill-opacity="0.22"/>
<rect x="351" y="773" width="9" height="9" fill="#7f7f7f" fill-opacity="0.22"/>
<rect x="369" y="784" width="9" height="9" fill="#7f7f7f" fill-opacity="0.22"/>
<rect x="442" y="848" width="9" height="9" fill="#7f7f7f" fill-opacity="0.22"/>
<rect x="408" y="767" width="9" height="9" fill="#7f7f7f" fill-opacity="0.22"/>
<rect x="425" y="807" width="9" height="9" fill="#7f7f7f" fill-opacity="0.22"/>
<rect x="441" y="843" width="9" height="9" fill="#7f7f7f" fill-opacity="0.22"/>
<rect x="353" y="759" width="9" height="9" fill="#7f7f7f" fill-opacity="0.22"/>
<rect x="360" y="686" width="9" height="9" fill="#7f7f7f" fill-opacity="0.22"/>
<rect x="423" y="767" width="9" height="9" fill="#7f7f7f" fill-opacity="0.22"/>
<rect x="416" y="762" width="9" height="9" fill="#7f7f7f" fill-opacity="0.22"/>
<rect x="378" y="689" width="9" height="9" fill="#7f7f7f" fill-opacity="0.22"/>
<rect x="405" y="780" width="9" height="9" fill="#7f7f7f" fill-opacity="0.22"/>
<rect x="384" y="745" width="9" height="9" fill="#7f7f7f" fill-opacity="0.22"/>
<rect x="437" y="850" width="9" height="9" fill="#7f7f7f" fill-opacity="0.22"/>
<rect x="373" y="761" width="9" height="9" fill="#7f7f7f" fill-opacity="0.22"/>
<rect x="414" y="836" width="9" height="9" fill="#7f7f7f" fill-opacity="0.22"/>
<rect x="424" y="792" width="9" height="9" fill="#7f7f7f" fill-opacity="0.22"/>
<rect x="359" y="705" width="9" height="9" fill="#7f7f7f" fill-opacity="0.22"/>
<rect x="398" y="707" width="9" height="9" fill="#7f7f7f" fill-opacity="0.22"/>
<rect x="378" y="687" width="9" height="9" fill="#7f7f7f" fill-opacity="0.22"/>
<rect x="408" y="712" width="9" height="9" fill="#7f7f7f" fill-opacity="0.22"/>
<rect x="415" y="738" width="9" height="9" fill="#7f7f7f" fill-opacity="0.22"/>
<rect x="366" y="779" width="9" height="9" fill="#7f7f7f" fill-opacity="0.22"/>
<rect x="383" y="735" width="9" height="9" fill="#7f7f7f" fill-opacity="0.22"/>
<rect x="398" y="766" width="9" height="9" fill="#7f7f7f" fill-opacity="0.22"/>
<rect x="419" y="807" width="9" height="9" fill="#7f7f7f" fill-opacity="0.22"/>
<rect x="376" y="786" width="9" height="9" fill="#7f7f7f" fill-opacity="0.22"/>
<rect x="436" y="830" width="9" height="9" fill="#7f7f7f" fill-opacity="0.22"/>
<rect x="440" y="836" width="9" height="9" fill="#7f7f7f" fill-opacity="0.22"/>
<rect x="409" y="729" width="9" height="9" fill="#7f7f7f" fill-opacity="0.22"/>
<rect x="386" y="757" width="9" height="9" fill="#7f7f7f" fill-opacity="0.22"/>
<rect x="419" y="845" width="9" height="9" fill="#7f7f7f" fill-opacity="0.22"/>
<rect x="383" y="810" width="9" height="9" fill="#7f7f7f" fill-opacity="0.22"/>
<rect x="381" y="739" width="9" height="9" fill="#7f7f7f" fill-opacity="0.22"/>
<rect x="349" y="750" width="9" height="9" fill="#7f7f7f" fill-opacity="0.22"/>
<rect x="430" y="792" width="9" height="9" fill="#7f7f7f" fill-opacity="0.22"/>
<rect x="381" y="769" width="9" height="9" fill="#7f7f7f" fill-opacity="0.22"/>
<rect x="388" y="747" width="9" height="9" fill="#7f7f7f" fill-opacity="0.22"/>
<rect x="365" y="765" width="9" height="9" fill="#7f7f7f" fill-opacity="0.22"/>
<rect x="360" y="755" width="9" height="9" fill="#7f7f7f" fill-opacity="0.22"/>
<rect x="416" y="759" width="9" height="9" fill="#7f7f7f" fill-opacity="0.22"/>
<rect x="417" y="726" width="9" height="9" fill="#7f7f7f" fill-opacity="0.22"/>
<rect x="444" y="809" width="9" height="9" fill="#7f7f7f" fill-opacity="0.22"/>
<rect x="400" y="796" width="9" height="9" fill="#7f7f7f" fill-opacity="0.22"/>
<rect x="423" y="774" width="9" height="9" fill="#7f7f7f" fill-opacity="0.22"/>
<rect x="420" y="767" width="9" height="9" fill="#7f7f7f" fill-opacity="0.22"/>
<rect x="385" y="729" width="9" height="9" fill="#7f7f7f" fill-opacity="0.22"/>
<rect x="412" y="797" width="9" height="9" fill="#7f7f7f" fill-opacity="0.22"/>
<rect x="401" y="690" width="9" height="9" fill="#7f7f7f" fill-opacity="0.22"/>
<rect x="415" y="772" width="9" height="9" fill="#7f7f7f" fill-opacity="0.22"/>
<rect x="411" y="802" width="9" height="9" fill="#7f7f7f" fill-opacity="0.22"/>
<rect x="398" y="730" width="9" height="9" fill="#7f7f7f" fill-opacity="0.22"/>
<rect x="442" y="813" width="9" height="9" fill="#7f7f7f" fill-opacity="0.22"/>
<rect x="454" y="849" width="9" height="9" fill="#7f7f7f" fill-opacity="0.22"/>
<rect x="436" y="785" width="9" height="9" fill="#7f7f7f" fill-opacity="0.22"/>
<rect x="445" y="825" width="9" height="9" fill="#7f7f7f" fill-opacity="0.22"/>
<rect x="394" y="790" width="9" height="9" fill="#7f7f7f" fill-opacity="0.22"/>
<rect x="444" y="837" width="9" height="9" fill="#7f7f7f" fill-opacity="0.22"/>
<rect x="383" y="703" width="9" height="9" fill="#7f7f7f" fill-opacity="0.22"/>
<rect x="342" y="752" width="9" height="9" fill="#7f7f7f" fill-opacity="0.22"/>
<rect x="379" y="626" width="9" height="9" fill="#7f7f7f" fill-opacity="0.22"/>
<rect x="421" y="678" width="9" height="9" fill="#7f7f7f" fill-opacity="0.22"/>
<rect x="393" y="661" width="9" height="9" fill="#7f7f7f" fill-opacity="0.22"/>
<rect x="391" y="664" width="9" height="9" fill="#7f7f7f" fill-opacity="0.22"/>
<rect x="427" y="613" width="9" height="9" fill="#7f7f7f" fill-opacity="0.22"/>
<rect x="413" y="636" width="9" height="9" fill="#7f7f7f" fill-opacity="0.22"/>
<rect x="458" y="633" width="9" height="9" fill="#7f7f7f" fill-opacity="0.22"/>
<rect x="454" y="666" width="9" height="9" fill="#7f7f7f" fill-opacity="0.22"/>
<rect x="389" y="621" width="9" height="9" fill="#7f7f7f" fill-opacity="0.22"/>
<rect x="468" y="648" width="9" height="9" fill="#7f7f7f" fill-opacity="0.22"/>
<rect x="381" y="621" width="9" height="9" fill="#7f7f7f" fill-opacity="0.22"/>
<rect x="416" y="627" width="9" height="9" fill="#7f7f7f" fill-opacity="0.22"/>
<rect x="475" y="640" width="9" height="9" fill="#7f7f7f" fill-opacity="0.22"/>
<rect x="409" y="643" width="9" height="9" fill="#7f7f7f" fill-opacity="0.22"/>
<rect x="383" y="661" width="9" height="9" fill="#7f7f7f" fill-opacity="0.22"/>
<rect x="426" y="675" width="9" height="9" fill="#7f7f7f" fill-opacity="0.22"/>
<rect x="424" y="647" width="9" height="9" fill="#7f7f7f" fill-opacity="0.22"/>
<rect x="414" y="666" width="9" height="9" fill="#7f7f7f" fill-opacity="0.22"/>
<rect x="397" y="657" width="9" height="9" fill="#7f7f7f" fill-opacity="0.22"/>
<rect x="405" y="680" width="9" height="9" fill="#7f7f7f" fill-opacity="0.22"/>
<rect x="405" y="678" width="9" height="9" fill="#7f7f7f" fill-opacity="0.22"/>
<rect x="465" y="647" width="9" height="9" fill="#7f7f7f" fill-opacity="0.22"/>
<rect x="476" y="658" width="9" height="9" fill="#7f7f7f" fill-opacity="0.22"/>
<rect x="430" y="617" width="9" height="9" fill="#7f7f7f" fill-opacity="0.22"/>
<rect x="425" y="633" width="9" height="9" fill="#7f7f7f" fill-opacity="0.22"/>
<rect x="406" y="666" width="9" height="9" fill="#7f7f7f" fill-opacity="0.22"/>
<rect x="465" y="631" width="9" height="9" fill="#7f7f7f" fill-opacity="0.22"/>
<rect x="424" y="622" width="9" height="9" fill="#7f7f7f" fill-opacity="0.22"/>
<rect x="499" y="631" width="9" height="9" fill="#7f7f7f" fill-opacity="0.22"/>
<rect x="426" y="638" width="9" height="9" fill="#7f7f7f" fill-opacity="0.22"/>
<rect x="452" y="654" width="9" height="9" fill="#7f7f7f" fill-opacity="0.22"/>
<rect x="376" y="681" width="9" height="9" fill="#7f7f7f" fill-opacity="0.22"/>
<rect x="374" y="640" width="9" height="9" fill="#7f7f7f" fill-opacity="0.22"/>
<rect x="419" y="668" width="9" height="9" fill="#7f7f7f" fill-opacity="0.22"/>
<rect x="464" y="638" width="9" height="9" fill="#7f7f7f" fill-opacity="0.22"/>
<rect x="433" y="640" width="9" height="9" fill="#7f7f7f" fill-opacity="0.22"/>
<rect x="433" y="636" width="9" height="9" fill="#7f7f7f" fill-opacity="0.22"/>
<rect x="464" y="659" width="9" height="9" fill="#7f7f7f" fill-opacity="0.22"/>
<rect x="371" y="648" width="9" height="9" fill="#7f7f7f" fill-opacity="0.22"/>
<rect x="423" y="663" width="9" height="9" fill="#7f7f7f" fill-opacity="0.22"/>
<rect x="394" y="689" width="9" height="9" fill="#7f7f7f" fill-opacity="0.22"/>
<rect x="393" y="640" width="9" height="9" fill="#7f7f7f" fill-opacity="0.22"/>
<rect x="383" y="642" width="9" height="9" fill="#7f7f7f" fill-opacity="0.22"/>
<rect x="475" y="618" width="9" height="9" fill="#7f7f7f" fill-opacity="0.22"/>
<rect x="386" y="662" width="9" height="9" fill="#7f7f7f" fill-opacity="0.22"/>
<rect x="457" y="669" width="9" height="9" fill="#7f7f7f" fill-opacity="0.22"/>
<rect x="400" y="675" width="9" height="9" fill="#7f7f7f" fill-opacity="0.22"/>
<rect x="379" y="648" width="9" height="9" fill="#7f7f7f" fill-opacity="0.22"/>
<rect x="364" y="639" width="9" height="9" fill="#7f7f7f" fill-opacity="0.22"/>
<rect x="444" y="653" width="9" height="9" fill="#7f7f7f" fill-opacity="0.22"/>
<rect x="378" y="673" width="9" height="9" fill="#7f7f7f" fill-opacity="0.22"/>
<rect x="407" y="651" width="9" height="9" fill="#7f7f7f" fill-opacity="0.22"/>
<rect x="380" y="656" width="9" height="9" fill="#7f7f7f" fill-opacity="0.22"/>
<rect x="381" y="618" width="9" height="9" fill="#7f7f7f" fill-opacity="0.22"/>
<rect x="440" y="634" width="9" height="9" fill="#7f7f7f" fill-opacity="0.22"/>
<rect x="481" y="631" width="9" height="9" fill="#7f7f7f" fill-opacity="0.22"/>
<rect x="425" y="616" width="9" height="9" fill="#7f7f7f" fill-opacity="0.22"/>
<rect x="394" y="647" width="9" height="9" fill="#7f7f7f" fill-opacity="0.22"/>
<rect x="447" y="647" width="9" height="9" fill="#7f7f7f" fill-opacity="0.22"/>
<rect x="492" y="620" width="9" height="9" fill="#7f7f7f" fill-opacity="0.22"/>
<rect x="492" y="624" width="9" height="9" fill="#7f7f7f" fill-opacity="0.22"/>
<rect x="423" y="659" width="9" height="9" fill="#7f7f7f" fill-opacity="0.22"/>
<rect x="425" y="612" width="9" height="9" fill="#7f7f7f" fill-opacity="0.22"/>
<rect x="384" y="675" width="9" height="9" fill="#7f7f7f" fill-opacity="0.22"/>
<rect x="385" y="653" width="9" height="9" fill="#7f7f7f" fill-opacity="0.22"/>
<rect x="407" y="687" width="9" height="9" fill="#7f7f7f" fill-opacity="0.22"/>
<rect x="368" y="644" width="9" height="9" fill="#7f7f7f" fill-opacity="0.22"/>
<rect x="373" y="632" width="9" height="9" fill="#7f7f7f" fill-opacity="0.22"/>
<rect x="378" y="683" width="9" height="9" fill="#7f7f7f" fill-opacity="0.22"/>
<rect x="411" y="650" width="9" height="9" fill="#7f7f7f" fill-opacity="0.22"/>
<rect x="422" y="635" width="9" height="9" fill="#7f7f7f" fill-opacity="0.22"/>
<rect x="475" y="632" width="9" height="9" fill="#7f7f7f" fill-opacity="0.22"/>
<rect x="418" y="645" width="9" height="9" fill="#7f7f7f" fill-opacity="0.22"/>
<rect x="434" y="639" width="9" height="9" fill="#7f7f7f" fill-opacity="0.22"/>
<rect x="427" y="647" width="9" height="9" fill="#7f7f7f" fill-opacity="0.22"/>
<rect x="370" y="653" width="9" height="9" fill="#7f7f7f" fill-opacity="0.22"/>
<rect x="445" y="643" width="9" height="9" fill="#7f7f7f" fill-opacity="0.22"/>
<rect x="395" y="619" width="9" height="9" fill="#7f7f7f" fill-opacity="0.22"/>
<rect x="418" y="636" width="9" height="9" fill="#7f7f7f" fill-opacity="0.22"/>
<rect x="436" y="629" width="9" height="9" fill="#7f7f7f" fill-opacity="0.22"/>
<rect x="477" y="650" width="9" height="9" fill="#7f7f7f" fill-opacity="0.22"/>
<rect x="362" y="643" width="9" height="9" fill="#7f7f7f" fill-opacity="0.22"/>
<rect x="510" y="612" width="9" height="9" fill="#7f7f7f" fill-opacity="0.22"/>
<rect x="417" y="658" width="9" height="9" fill="#7f7f7f" fill-opacity="0.22"/>
<rect x="418" y="635" width="9" height="9" fill="#7f7f7f" fill-opacity="0.22"/>
<rect x="455" y="657" width="9" height="9" fill="#7f7f7f" fill-opacity="0.22"/>
<rect x="409" y="650" width="9" height="9" fill="#7f7f7f" fill-opacity="0.22"/>
<rect x="441" y="670" width="9" height="9" fill="#7f7f7f" fill-opacity="0.22"/>
<rect x="369" y="619" width="9" height="9" fill="#7f7f7f" fill-opacity="0.22"/>
<rect x="400" y="633" width="9" height="9" fill="#7f7f7f" fill-opacity="0.22"/>
<rect x="484" y="645" width="9" height="9" fill="#7f7f7f" fill-opacity="0.22"/>
<rect x="494" y="643" width="9" height="9" fill="#7f7f7f" fill-opacity="0.22"/>
<rect x="405" y="665" width="9" height="9" fill="#7f7f7f" fill-opacity="0.22"/>
<rect x="489" y="637" width="9" height="9" fill="#7f7f7f" fill-opacity="0.22"/>
<rect x="410" y="675" width="9" height="9" fill="#7f7f7f" fill-opacity="0.22"/>
<rect x="369" y="671" width="9" height="9" fill="#7f7f7f" fill-opacity="0.22"/>
<rect x="368" y="660" width="9" height="9" fill="#7f7f7f" fill-opacity="0.22"/>
<rect x="459" y="613" width="9" height="9" fill="#7f7f7f" fill-opacity="0.22"/>
<rect x="450" y="612" width="9" height="9" fill="#7f7f7f" fill-opacity="0.22"/>
<rect x="475" y="644" width="9" height="9" fill="#7f7f7f" fill-opacity="0.22"/>
<rect x="503" y="617" width="9" height="9" fill="#7f7f7f" fill-opacity="0.22"/>
<rect x="482" y="646" width="9" height="9" fill="#7f7f7f" fill-opacity="0.22"/>
<rect x="477" y="641" width="9" height="9" fill="#7f7f7f" fill-opacity="0.22"/>
<rect x="430" y="646" width="9" height="9" fill="#7f7f7f" fill-opacity="0.22"/>
<rect x="379" y="636" width="9" height="9" fill="#7f7f7f" fill-opacity="0.22"/>
<rect x="474" y="617" width="9" height="9" fill="#7f7f7f" fill-opacity="0.22"/>
<rect x="378" y="677" width="9" height="9" fill="#7f7f7f" fill-opacity="0.22"/>
<rect x="464" y="654" width="9" height="9" fill="#7f7f7f" fill-opacity="0.22"/>
<rect x="378" y="621" width="9" height="9" fill="#7f7f7f" fill-opacity="0.22"/>
<rect x="409" y="686" width="9" height="9" fill="#7f7f7f" fill-opacity="0.22"/>
<rect x="393" y="644" width="9" height="9" fill="#7f7f7f" fill-opacity="0.22"/>
<rect x="380" y="680" width="9" height="9" fill="#7f7f7f" fill-opacity="0.22"/>
<rect x="434" y="614" width="9" height="9" fill="#7f7f7f" fill-opacity="0.22"/>
<rect x="427" y="641" width="9" height="9" fill="#7f7f7f" fill-opacity="0.22"/>
<rect x="437" y="665" width="9" height="9" fill="#7f7f7f" fill-opacity="0.22"/>
<rect x="421" y="672" width="9" height="9" fill="#7f7f7f" fill-opacity="0.22"/>
<rect x="377" y="669" width="9" height="9" fill="#7f7f7f" fill-opacity="0.22"/>
<rect x="386" y="657" width="9" height="9" fill="#7f7f7f" fill-opacity="0.22"/>
<rect x="392" y="639" width="9" height="9" fill="#7f7f7f" fill-opacity="0.22"/>
<rect x="386" y="639" width="9" height="9" fill="#7f7f7f" fill-opacity="0.22"/>
<rect x="452" y="652" width="9" height="9" fill="#7f7f7f" fill-opacity="0.22"/>
<rect x="421" y="656" width="9" height="9" fill="#7f7f7f" fill-opacity="0.22"/>
<rect x="491" y="639" width="9" height="9" fill="#7f7f7f" fill-opacity="0.22"/>
<rect x="451" y="649" width="9" height="9" fill="#7f7f7f" fill-opacity="0.22"/>
<rect x="483" y="677" width="9" height="9" fill="#7f7f7f" fill-opacity="0.22"/>
<rect x="380" y="815" width="9" height="9" fill="#7f7f7f" fill-opacity="0.22"/>
<rect x="454" y="683" width="9" height="9" fill="#7f7f7f" fill-opacity="0.22"/>
<rect x="407" y="811" width="9" height="9" fill="#7f7f7f" fill-opacity="0.22"/>
<rect x="420" y="784" width="9" height="9" fill="#7f7f7f" fill-opacity="0.22"/>
<rect x="433" y="676" width="9" height="9" fill="#7f7f7f" fill-opacity="0.22"/>
<rect x="497" y="640" width="9" height="9" fill="#7f7f7f" fill-opacity="0.22"/>
<rect x="453" y="765" width="9" height="9" fill="#7f7f7f" fill-opacity="0.22"/>
<rect x="397" y="654" width="9" height="9" fill="#7f7f7f" fill-opacity="0.22"/>
<rect x="509" y="639" width="9" height="9" fill="#7f7f7f" fill-opacity="0.22"/>
<rect x="504" y="672" width="9" height="9" fill="#7f7f7f" fill-opacity="0.22"/>
<rect x="365" y="761" width="9" height="9" fill="#7f7f7f" fill-opacity="0.22"/>
<rect x="463" y="645" width="9" height="9" fill="#7f7f7f" fill-opacity="0.22"/>
<rect x="482" y="713" width="9" height="9" fill="#7f7f7f" fill-opacity="0.22"/>
<rect x="490" y="685" width="9" height="9" fill="#7f7f7f" fill-opacity="0.22"/>
<rect x="445" y="682" width="9" height="9" fill="#7f7f7f" fill-opacity="0.22"/>
<rect x="387" y="682" width="9" height="9" fill="#7f7f7f" fill-opacity="0.22"/>
<rect x="349" y="747" width="9" height="9" fill="#7f7f7f" fill-opacity="0.22"/>
<rect x="382" y="691" width="9" height="9" fill="#7f7f7f" fill-opacity="0.22"/>
<rect x="384" y="754" width="9" height="9" fill="#7f7f7f" fill-opacity="0.22"/>
<rect x="525" y="656" width="9" height="9" fill="#7f7f7f" fill-opacity="0.22"/>
<rect x="463" y="763" width="9" height="9" fill="#7f7f7f" fill-opacity="0.22"/>
<rect x="502" y="684" width="9" height="9" fill="#7f7f7f" fill-opacity="0.22"/>
<rect x="404" y="831" width="9" height="9" fill="#7f7f7f" fill-opacity="0.22"/>
<rect x="373" y="738" width="9" height="9" fill="#7f7f7f" fill-opacity="0.22"/>
<rect x="406" y="815" width="9" height="9" fill="#7f7f7f" fill-opacity="0.22"/>
<rect x="452" y="709" width="9" height="9" fill="#7f7f7f" fill-opacity="0.22"/>
<rect x="474" y="632" width="9" height="9" fill="#7f7f7f" fill-opacity="0.22"/>
<rect x="532" y="640" width="9" height="9" fill="#7f7f7f" fill-opacity="0.22"/>
<rect x="452" y="645" width="9" height="9" fill="#7f7f7f" fill-opacity="0.22"/>
<rect x="525" y="629" width="9" height="9" fill="#7f7f7f" fill-opacity="0.22"/>
<rect x="476" y="630" width="9" height="9" fill="#7f7f7f" fill-opacity="0.22"/>
<rect x="442" y="633" width="9" height="9" fill="#7f7f7f" fill-opacity="0.22"/>
<rect x="443" y="663" width="9" height="9" fill="#7f7f7f" fill-opacity="0.22"/>
<rect x="443" y="710" width="9" height="9" fill="#7f7f7f" fill-opacity="0.22"/>
<rect x="436" y="667" width="9" height="9" fill="#7f7f7f" fill-opacity="0.22"/>
<rect x="485" y="728" width="9" height="9" fill="#7f7f7f" fill-opacity="0.22"/>
<rect x="433" y="633" width="9" height="9" fill="#7f7f7f" fill-opacity="0.22"/>
<rect x="433" y="767" width="9" height="9" fill="#7f7f7f" fill-opacity="0.22"/>
<rect x="350" y="695" width="9" height="9" fill="#7f7f7f" fill-opacity="0.22"/>
<rect x="397" y="807" width="9" height="9" fill="#7f7f7f" fill-opacity="0.22"/>
<rect x="458" y="803" width="9" height="9" fill="#7f7f7f" fill-opacity="0.22"/>
<rect x="463" y="783" width="9" height="9" fill="#7f7f7f" fill-opacity="0.22"/>
<rect x="540" y="636" width="9" height="9" fill="#7f7f7f" fill-opacity="0.22"/>
<rect x="441" y="879" width="9" height="9" fill="#7f7f7f" fill-opacity="0.22"/>
<rect x="325" y="643" width="9" height="9" fill="#7f7f7f" fill-opacity="0.22"/>
<rect x="441" y="773" width="9" height="9" fill="#7f7f7f" fill-opacity="0.22"/>
<rect x="397" y="708" width="9" height="9" fill="#7f7f7f" fill-opacity="0.22"/>
<rect x="380" y="775" width="9" height="9" fill="#7f7f7f" fill-opacity="0.22"/>
<rect x="443" y="705" width="9" height="9" fill="#7f7f7f" fill-opacity="0.22"/>
<rect x="478" y="738" width="9" height="9" fill="#7f7f7f" fill-opacity="0.22"/>
<rect x="359" y="653" width="9" height="9" fill="#7f7f7f" fill-opacity="0.22"/>
<rect x="378" y="745" width="9" height="9" fill="#7f7f7f" fill-opacity="0.22"/>
<rect x="504" y="704" width="9" height="9" fill="#7f7f7f" fill-opacity="0.22"/>
<rect x="374" y="794" width="9" height="9" fill="#7f7f7f" fill-opacity="0.22"/>
<rect x="379" y="757" width="9" height="9" fill="#7f7f7f" fill-opacity="0.22"/>
<rect x="361" y="676" width="9" height="9" fill="#7f7f7f" fill-opacity="0.22"/>
<rect x="389" y="703" width="9" height="9" fill="#7f7f7f" fill-opacity="0.22"/>
<rect x="376" y="672" width="9" height="9" fill="#7f7f7f" fill-opacity="0.22"/>
<rect x="406" y="711" width="9" height="9" fill="#7f7f7f" fill-opacity="0.22"/>
<rect x="410" y="649" width="9" height="9" fill="#7f7f7f" fill-opacity="0.22"/>
<rect x="398" y="832" width="9" height="9" fill="#7f7f7f" fill-opacity="0.22"/>
<rect x="408" y="692" width="9" height="9" fill="#7f7f7f" fill-opacity="0.22"/>
<rect x="459" y="818" width="9" height="9" fill="#7f7f7f" fill-opacity="0.22"/>
<rect x="431" y="840" width="9" height="9" fill="#7f7f7f" fill-opacity="0.22"/>
<rect x="408" y="630" width="9" height="9" fill="#7f7f7f" fill-opacity="0.22"/>
<rect x="535" y="652" width="9" height="9" fill="#7f7f7f" fill-opacity="0.22"/>
<rect x="543" y="665" width="9" height="9" fill="#7f7f7f" fill-opacity="0.22"/>
<rect x="406" y="645" width="9" height="9" fill="#7f7f7f" fill-opacity="0.22"/>
<rect x="335" y="663" width="9" height="9" fill="#7f7f7f" fill-opacity="0.22"/>
<rect x="400" y="625" width="9" height="9" fill="#7f7f7f" fill-opacity="0.22"/>
<rect x="391" y="663" width="9" height="9" fill="#7f7f7f" fill-opacity="0.22"/>
<rect x="347" y="759" width="9" height="9" fill="#7f7f7f" fill-opacity="0.22"/>
<rect x="446" y="770" width="9" height="9" fill="#7f7f7f" fill-opacity="0.22"/>
<rect x="543" y="634" width="9" height="9" fill="#7f7f7f" fill-opacity="0.22"/>
<rect x="371" y="633" width="9" height="9" fill="#7f7f7f" fill-opacity="0.22"/>
<rect x="391" y="824" width="9" height="9" fill="#7f7f7f" fill-opacity="0.22"/>
<rect x="356" y="704" width="9" height="9" fill="#7f7f7f" fill-opacity="0.22"/>
<rect x="453" y="694" width="9" height="9" fill="#7f7f7f" fill-opacity="0.22"/>
<rect x="427" y="780" width="9" height="9" fill="#7f7f7f" fill-opacity="0.22"/>
<rect x="550" y="618" width="9" height="9" fill="#7f7f7f" fill-opacity="0.22"/>
<rect x="499" y="723" width="9" height="9" fill="#7f7f7f" fill-opacity="0.22"/>
<rect x="330" y="657" width="9" height="9" fill="#7f7f7f" fill-opacity="0.22"/>
<rect x="436" y="794" width="9" height="9" fill="#7f7f7f" fill-opacity="0.22"/>
<rect x="428" y="662" width="9" height="9" fill="#7f7f7f" fill-opacity="0.22"/>
<rect x="321" y="696" width="9" height="9" fill="#7f7f7f" fill-opacity="0.22"/>
<rect x="327" y="684" width="9" height="9" fill="#7f7f7f" fill-opacity="0.22"/>
<rect x="465" y="715" width="9" height="9" fill="#7f7f7f" fill-opacity="0.22"/>
<rect x="430" y="786" width="9" height="9" fill="#7f7f7f" fill-opacity="0.22"/>
<rect x="393" y="711" width="9" height="9" fill="#7f7f7f" fill-opacity="0.22"/>
<rect x="417" y="762" width="9" height="9" fill="#7f7f7f" fill-opacity="0.22"/>
<rect x="427" y="704" width="9" height="9" fill="#7f7f7f" fill-opacity="0.22"/>
<rect x="535" y="677" width="9" height="9" fill="#7f7f7f" fill-opacity="0.22"/>
<rect x="527" y="657" width="9" height="9" fill="#7f7f7f" fill-opacity="0.22"/>
<rect x="439" y="886" width="9" height="9" fill="#7f7f7f" fill-opacity="0.22"/>
<rect x="386" y="659" width="9" height="9" fill="#7f7f7f" fill-opacity="0.22"/>
<rect x="490" y="677" width="9" height="9" fill="#7f7f7f" fill-opacity="0.22"/>
<rect x="456" y="655" width="9" height="9" fill="#7f7f7f" fill-opacity="0.22"/>
<rect x="400" y="768" width="9" height="9" fill="#7f7f7f" fill-opacity="0.22"/>
<rect x="436" y="869" width="9" height="9" fill="#7f7f7f" fill-opacity="0.22"/>
<rect x="440" y="717" width="9" height="9" fill="#7f7f7f" fill-opacity="0.22"/>
<rect x="382" y="772" width="9" height="9" fill="#7f7f7f" fill-opacity="0.22"/>
<rect x="468" y="740" width="9" height="9" fill="#7f7f7f" fill-opacity="0.22"/>
<rect x="339" y="750" width="9" height="9" fill="#7f7f7f" fill-opacity="0.22"/>
<rect x="432" y="790" width="9" height="9" fill="#7f7f7f" fill-opacity="0.22"/>
<rect x="423" y="635" width="9" height="9" fill="#7f7f7f" fill-opacity="0.22"/>
<rect x="508" y="677" width="9" height="9" fill="#7f7f7f" fill-opacity="0.22"/>
<rect x="437" y="730" width="9" height="9" fill="#7f7f7f" fill-opacity="0.22"/>
<rect x="450" y="875" width="9" height="9" fill="#7f7f7f" fill-opacity="0.22"/>
<rect x="434" y="746" width="9" height="9" fill="#7f7f7f" fill-opacity="0.22"/>
<rect x="437" y="707" width="9" height="9" fill="#7f7f7f" fill-opacity="0.22"/>
<rect x="364" y="672" width="9" height="9" fill="#7f7f7f" fill-opacity="0.22"/>
<rect x="508" y="661" width="9" height="9" fill="#7f7f7f" fill-opacity="0.22"/>
<rect x="511" y="696" width="9" height="9" fill="#7f7f7f" fill-opacity="0.22"/>
<rect x="399" y="832" width="9" height="9" fill="#7f7f7f" fill-opacity="0.22"/>
<rect x="463" y="866" width="9" height="9" fill="#7f7f7f" fill-opacity="0.22"/>
<rect x="525" y="698" width="9" height="9" fill="#7f7f7f" fill-opacity="0.22"/>
<rect x="362" y="805" width="9" height="9" fill="#7f7f7f" fill-opacity="0.22"/>
<rect x="466" y="646" width="9" height="9" fill="#7f7f7f" fill-opacity="0.22"/>
<rect x="490" y="628" width="9" height="9" fill="#7f7f7f" fill-opacity="0.22"/>
<rect x="453" y="875" width="9" height="9" fill="#7f7f7f" fill-opacity="0.22"/>
<rect x="470" y="749" width="9" height="9" fill="#7f7f7f" fill-opacity="0.22"/>
<rect x="409" y="710" width="9" height="9" fill="#7f7f7f" fill-opacity="0.22"/>
<rect x="323" y="656" width="9" height="9" fill="#7f7f7f" fill-opacity="0.22"/>
<rect x="507" y="675" width="9" height="9" fill="#7f7f7f" fill-opacity="0.22"/>
<rect x="393" y="688" width="9" height="9" fill="#7f7f7f" fill-opacity="0.22"/>
<rect x="362" y="792" width="9" height="9" fill="#7f7f7f" fill-opacity="0.22"/>
<rect x="534" y="693" width="9" height="9" fill="#7f7f7f" fill-opacity="0.22"/>
<rect x="397" y="689" width="9" height="9" fill="#7f7f7f" fill-opacity="0.22"/>
<rect x="442" y="748" width="9" height="9" fill="#7f7f7f" fill-opacity="0.22"/>
<rect x="445" y="743" width="9" height="9" fill="#7f7f7f" fill-opacity="0.22"/>
<rect x="495" y="681" width="9" height="9" fill="#7f7f7f" fill-opacity="0.22"/>
<rect x="365" y="774" width="9" height="9" fill="#7f7f7f" fill-opacity="0.22"/>
<rect x="375" y="703" width="9" height="9" fill="#7f7f7f" fill-opacity="0.22"/>
<rect x="334" y="626" width="9" height="9" fill="#7f7f7f" fill-opacity="0.22"/>
<rect x="402" y="759" width="9" height="9" fill="#7f7f7f" fill-opacity="0.22"/>
<rect x="416" y="725" width="9" height="9" fill="#7f7f7f" fill-opacity="0.22"/>
<rect x="374" y="744" width="9" height="9" fill="#7f7f7f" fill-opacity="0.22"/>
<rect x="546" y="646" width="9" height="9" fill="#7f7f7f" fill-opacity="0.22"/>
<rect x="421" y="803" width="9" height="9" fill="#7f7f7f" fill-opacity="0.22"/>
<rect x="532" y="682" width="9" height="9" fill="#7f7f7f" fill-opacity="0.22"/>
<rect x="443" y="664" width="9" height="9" fill="#7f7f7f" fill-opacity="0.22"/>
<rect x="500" y="627" width="9" height="9" fill="#7f7f7f" fill-opacity="0.22"/>
<rect x="353" y="765" width="9" height="9" fill="#7f7f7f" fill-opacity="0.22"/>
<rect x="382" y="812" width="9" height="9" fill="#7f7f7f" fill-opacity="0.22"/>
<rect x="490" y="701" width="9" height="9" fill="#7f7f7f" fill-opacity="0.22"/>
<rect x="486" y="739" width="9" height="9" fill="#7f7f7f" fill-opacity="0.22"/>
<rect x="420" y="641" width="9" height="9" fill="#7f7f7f" fill-opacity="0.22"/>
<rect x="431" y="878" width="9" height="9" fill="#7f7f7f" fill-opacity="0.22"/>
<rect x="529" y="627" width="9" height="9" fill="#7f7f7f" fill-opacity="0.22"/>
<rect x="334" y="687" width="9" height="9" fill="#7f7f7f" fill-opacity="0.22"/>
<rect x="483" y="734" width="9" height="9" fill="#7f7f7f" fill-opacity="0.22"/>
<rect x="348" y="730" width="9" height="9" fill="#7f7f7f" fill-opacity="0.22"/>
<rect x="525" y="621" width="9" height="9" fill="#7f7f7f" fill-opacity="0.22"/>
<rect x="525" y="621" width="9" height="9" fill="#7f7f7f" fill-opacity="0.22"/>
<rect x="525" y="621" width="9" height="9" fill="#7f7f7f" fill-opacity="0.22"/>
<rect x="538" y="637" width="9" height="9" fill="#7f7f7f" fill-opacity="0.22"/>
<rect x="538" y="637" width="9" height="9" fill="#7f7f7f" fill-opacity="0.22"/>
<rect x="538" y="637" width="9" height="9" fill="#7f7f7f" fill-opacity="0.22"/>
<rect x="505" y="637" width="9" height="9" fill="#7f7f7f" fill-opacity="0.22"/>
<rect x="505" y="637" width="9" height="9" fill="#7f7f7f" fill-opacity="0.22"/>
<rect x="505" y="637" width="9" height="9" fill="#7f7f7f" fill-opacity="0.22"/>
<rect x="487" y="626" width="9" height="9" fill="#7f7f7f" fill-opacity="0.22"/>
<rect x="487" y="626" width="9" height="9" fill="#7f7f7f" fill-opacity="0.22"/>
<rect x="487" y="626" width="9" height="9" fill="#7f7f7f" fill-opacity="0.22"/>
<rect x="493" y="673" width="9" height="9" fill="#7f7f7f" fill-opacity="0.22"/>
<rect x="493" y="673" width="9" height="9" fill="#7f7f7f" fill-opacity="0.22"/>
<rect x="493" y="673" width="9" height="9" fill="#7f7f7f" fill-opacity="0.22"/>
<rect x="518" y="687" width="9" height="9" fill="#7f7f7f" fill-opacity="0.22"/>
<rect x="518" y="687" width="9" height="9" fill="#7f7f7f" fill-opacity="0.22"/>
<rect x="518" y="687" width="9" height="9" fill="#7f7f7f" fill-opacity="0.22"/>
<rect x="461" y="668" width="9" height="9" fill="#7f7f7f" fill-opacity="0.22"/>
<rect x="461" y="668" width="9" height="9" fill="#7f7f7f" fill-opacity="0.22"/>
<rect x="461" y="668" width="9" height="9" fill="#7f7f7f" fill-opacity="0.22"/>
<rect x="470" y="848" width="9" height="9" fill="#7f7f7f" fill-opacity="0.22"/>
<rect x="470" y="848" width="9" height="9" fill="#7f7f7f" fill-opacity="0.22"/>
<rect x="470" y="848" width="9" height="9" fill="#7f7f7f" fill-opacity="0.22"/>
<rect x="368" y="826" width="9" height="9" fill="#7f7f7f" fill-opacity="0.22"/>
<rect x="368" y="826" width="9" height="9" fill="#7f7f7f" fill-opacity="0.22"/>
<rect x="376" y="818" width="9" height="9" fill="#7f7f7f" fill-opacity="0.22"/>
<rect x="380" y="824" width="9" height="9" fill="#7f7f7f" fill-opacity="0.22"/>
<rect x="553" y="617" width="9" height="9" fill="#7f7f7f" fill-opacity="0.22"/>
<rect x="570" y="816" width="9" height="9" fill="#7f7f7f" fill-opacity="0.22"/>
<rect x="506" y="850" width="9" height="9" fill="#7f7f7f" fill-opacity="0.22"/>
<rect x="548" y="858" width="9" height="9" fill="#7f7f7f" fill-opacity="0.22"/>
<rect x="548" y="858" width="9" height="9" fill="#7f7f7f" fill-opacity="0.22"/>
<rect x="596" y="876" width="9" height="9" fill="#7f7f7f" fill-opacity="0.22"/>
<rect x="500" y="968" width="9" height="9" fill="#7f7f7f" fill-opacity="0.22"/>
<rect x="308" y="640" width="9" height="9" fill="#7f7f7f" fill-opacity="0.22"/>
<rect x="314" y="656" width="9" height="9" fill="#7f7f7f" fill-opacity="0.22"/>
<rect x="320" y="686" width="9" height="9" fill="#7f7f7f" fill-opacity="0.22"/>
<rect x="314" y="714" width="9" height="9" fill="#7f7f7f" fill-opacity="0.22"/>
<rect x="340" y="740" width="9" height="9" fill="#7f7f7f" fill-opacity="0.22"/></g>
<rect x="397.39" y="210.61" width="26.6" height="26.6" fill="#3866b6" fill-opacity="1.0" stroke="#000" stroke-width="2.2"/>
<rect x="396.21" y="260.82" width="26.6" height="26.6" fill="#3866b6" fill-opacity="1.0" stroke="#000" stroke-width="2.2"/>
<rect x="386.20" y="311.28" width="26.6" height="26.6" fill="#b4c7e7" fill-opacity="1.0" stroke="#000" stroke-width="2.2"/>
<rect x="383.59" y="340.30" width="26.6" height="26.6" fill="#dae0f0" fill-opacity="1.0" stroke="#000" stroke-width="2.2"/>
<rect x="396.98" y="194.21" width="26.6" height="26.6" fill="#1c2d58" fill-opacity="1.0" stroke="#000" stroke-width="2.2"/>
<rect x="392.72" y="254.26" width="26.6" height="26.6" fill="#1c2d58" fill-opacity="1.0" stroke="#000" stroke-width="2.2"/>
<rect x="393.03" y="290.09" width="26.6" height="26.6" fill="#b4c7e7" fill-opacity="1.0" stroke="#000" stroke-width="2.2"/>
<rect x="392.51" y="324.40" width="26.6" height="26.6" fill="#dae0f0" fill-opacity="1.0" stroke="#000" stroke-width="2.2"/>
<circle cx="389.70" cy="299.67" r="13.6" fill="#70b02c" fill-opacity="0.7" stroke="#000" stroke-width="2.3"/>
<circle cx="408.58" cy="322.88" r="13.6" fill="#70b02c" fill-opacity="0.7" stroke="#000" stroke-width="2.3"/>
<circle cx="449.62" cy="373.34" r="13.6" fill="#70b02c" fill-opacity="0.7" stroke="#000" stroke-width="2.3"/>
<circle cx="483.89" cy="415.47" r="13.6" fill="#70b02c" fill-opacity="0.7" stroke="#000" stroke-width="2.3"/>
<circle cx="391.50" cy="301.88" r="13.6" fill="#70b02c" fill-opacity="0.7" stroke="#000" stroke-width="2.3"/>
<circle cx="463.32" cy="390.18" r="13.6" fill="#70b02c" fill-opacity="0.7" stroke="#000" stroke-width="2.3"/>
<circle cx="494.10" cy="428.03" r="13.6" fill="#70b02c" fill-opacity="0.7" stroke="#000" stroke-width="2.3"/>
<polygon points="435.31,343.01 448.75,369.89 421.87,369.89" fill="#70b02c" fill-opacity="0.7" stroke="#000" stroke-width="2.3" stroke-linejoin="miter" stroke-miterlimit="10"/>
<polygon points="418.33,322.13 431.77,349.01 404.89,349.01" fill="#70b02c" fill-opacity="0.7" stroke="#000" stroke-width="2.3" stroke-linejoin="miter" stroke-miterlimit="10"/>
<polygon points="420.02,324.22 433.46,351.09 406.58,351.09" fill="#70b02c" fill-opacity="0.7" stroke="#000" stroke-width="2.3" stroke-linejoin="miter" stroke-miterlimit="10"/>
<polygon points="392.58,290.47 406.02,317.35 379.14,317.35" fill="#70b02c" fill-opacity="0.7" stroke="#000" stroke-width="2.3" stroke-linejoin="miter" stroke-miterlimit="10"/>
<polygon points="420.59,324.91 434.03,351.79 407.15,351.79" fill="#70b02c" fill-opacity="0.7" stroke="#000" stroke-width="2.3" stroke-linejoin="miter" stroke-miterlimit="10"/>
<polygon points="442.80,352.22 456.24,379.10 429.36,379.10" fill="#70b02c" fill-opacity="0.7" stroke="#000" stroke-width="2.3" stroke-linejoin="miter" stroke-miterlimit="10"/>
<polygon points="458.40,371.40 471.83,398.27 444.96,398.27" fill="#70b02c" fill-opacity="0.7" stroke="#000" stroke-width="2.3" stroke-linejoin="miter" stroke-miterlimit="10"/>
<polygon points="458.40,371.40 471.83,398.27 444.96,398.27" fill="#70b02c" fill-opacity="0.7" stroke="#000" stroke-width="2.3" stroke-linejoin="miter" stroke-miterlimit="10"/>
<rect x="480.70" y="413.72" width="26.6" height="26.6" fill="#ee7e2a" fill-opacity="1.0" stroke="#000" stroke-width="2.2"/>
<circle cx="237.60" cy="112.65" r="13.6" fill="#f6760e" fill-opacity="0.7" stroke="#000" stroke-width="2.3"/>
<circle cx="340.20" cy="238.80" r="13.6" fill="#f6760e" fill-opacity="0.7" stroke="#000" stroke-width="2.3"/>
<circle cx="353.02" cy="254.57" r="13.6" fill="#f6760e" fill-opacity="0.7" stroke="#000" stroke-width="2.3"/>
<circle cx="358.21" cy="260.94" r="13.6" fill="#f6760e" fill-opacity="0.7" stroke="#000" stroke-width="2.3"/>
<circle cx="374.57" cy="281.06" r="13.6" fill="#f6760e" fill-opacity="0.7" stroke="#000" stroke-width="2.3"/>
<circle cx="442.80" cy="364.95" r="13.6" fill="#f6760e" fill-opacity="0.7" stroke="#000" stroke-width="2.3"/>
<circle cx="477.02" cy="407.02" r="13.6" fill="#f6760e" fill-opacity="0.7" stroke="#000" stroke-width="2.3"/>
<circle cx="494.10" cy="428.03" r="13.6" fill="#f6760e" fill-opacity="0.7" stroke="#000" stroke-width="2.3"/>
<circle cx="519.75" cy="459.56" r="13.6" fill="#f6760e" fill-opacity="0.7" stroke="#000" stroke-width="2.3"/>
<polygon points="357.59,247.45 371.03,274.33 344.15,274.33" fill="#f6760e" fill-opacity="0.7" stroke="#000" stroke-width="2.3" stroke-linejoin="miter" stroke-miterlimit="10"/>
<polygon points="426.69,332.42 440.13,359.29 413.25,359.29" fill="#f6760e" fill-opacity="0.7" stroke="#000" stroke-width="2.3" stroke-linejoin="miter" stroke-miterlimit="10"/>
<polygon points="442.39,351.72 455.83,378.60 428.95,378.60" fill="#f6760e" fill-opacity="0.7" stroke="#000" stroke-width="2.3" stroke-linejoin="miter" stroke-miterlimit="10"/>
<polygon points="452.19,363.76 465.63,390.64 438.75,390.64" fill="#f6760e" fill-opacity="0.7" stroke="#000" stroke-width="2.3" stroke-linejoin="miter" stroke-miterlimit="10"/>
<rect x="394.09" y="739.60" width="26.6" height="26.6" fill="#3866b6" fill-opacity="1.0" stroke="#000" stroke-width="2.2"/>
<rect x="392.91" y="789.85" width="26.6" height="26.6" fill="#3866b6" fill-opacity="1.0" stroke="#000" stroke-width="2.2"/>
<rect x="382.90" y="840.35" width="26.6" height="26.6" fill="#b4c7e7" fill-opacity="1.0" stroke="#000" stroke-width="2.2"/>
<rect x="380.29" y="869.39" width="26.6" height="26.6" fill="#dae0f0" fill-opacity="1.0" stroke="#000" stroke-width="2.2"/>
<rect x="393.68" y="723.19" width="26.6" height="26.6" fill="#1c2d58" fill-opacity="1.0" stroke="#000" stroke-width="2.2"/>
<rect x="389.42" y="783.29" width="26.6" height="26.6" fill="#1c2d58" fill-opacity="1.0" stroke="#000" stroke-width="2.2"/>
<rect x="389.73" y="819.14" width="26.6" height="26.6" fill="#b4c7e7" fill-opacity="1.0" stroke="#000" stroke-width="2.2"/>
<rect x="389.21" y="853.48" width="26.6" height="26.6" fill="#dae0f0" fill-opacity="1.0" stroke="#000" stroke-width="2.2"/>
<circle cx="386.40" cy="801.38" r="13.6" fill="#70b02c" fill-opacity="0.7" stroke="#000" stroke-width="2.3"/>
<circle cx="405.28" cy="683.72" r="13.6" fill="#70b02c" fill-opacity="0.7" stroke="#000" stroke-width="2.3"/>
<circle cx="446.32" cy="686.24" r="13.6" fill="#70b02c" fill-opacity="0.7" stroke="#000" stroke-width="2.3"/>
<circle cx="480.59" cy="698.11" r="13.6" fill="#70b02c" fill-opacity="0.7" stroke="#000" stroke-width="2.3"/>
<circle cx="388.20" cy="746.84" r="13.6" fill="#70b02c" fill-opacity="0.7" stroke="#000" stroke-width="2.3"/>
<circle cx="460.02" cy="818.30" r="13.6" fill="#70b02c" fill-opacity="0.7" stroke="#000" stroke-width="2.3"/>
<circle cx="490.80" cy="830.92" r="13.6" fill="#70b02c" fill-opacity="0.7" stroke="#000" stroke-width="2.3"/>
<polygon points="432.01,735.88 445.45,762.76 418.57,762.76" fill="#70b02c" fill-opacity="0.7" stroke="#000" stroke-width="2.3" stroke-linejoin="miter" stroke-miterlimit="10"/>
<polygon points="415.03,767.44 428.47,794.32 401.59,794.32" fill="#70b02c" fill-opacity="0.7" stroke="#000" stroke-width="2.3" stroke-linejoin="miter" stroke-miterlimit="10"/>
<polygon points="416.72,777.04 430.16,803.92 403.28,803.92" fill="#70b02c" fill-opacity="0.7" stroke="#000" stroke-width="2.3" stroke-linejoin="miter" stroke-miterlimit="10"/>
<polygon points="389.28,781.08 402.72,807.96 375.84,807.96" fill="#70b02c" fill-opacity="0.7" stroke="#000" stroke-width="2.3" stroke-linejoin="miter" stroke-miterlimit="10"/>
<polygon points="417.29,796.48 430.73,823.36 403.85,823.36" fill="#70b02c" fill-opacity="0.7" stroke="#000" stroke-width="2.3" stroke-linejoin="miter" stroke-miterlimit="10"/>
<polygon points="439.50,817.44 452.94,844.32 426.06,844.32" fill="#70b02c" fill-opacity="0.7" stroke="#000" stroke-width="2.3" stroke-linejoin="miter" stroke-miterlimit="10"/>
<polygon points="455.10,849.51 468.53,876.38 441.66,876.38" fill="#70b02c" fill-opacity="0.7" stroke="#000" stroke-width="2.3" stroke-linejoin="miter" stroke-miterlimit="10"/>
<polygon points="455.10,849.51 468.53,876.38 441.66,876.38" fill="#70b02c" fill-opacity="0.7" stroke="#000" stroke-width="2.3" stroke-linejoin="miter" stroke-miterlimit="10"/>
<rect x="477.40" y="942.87" width="26.6" height="26.6" fill="#ee7e2a" fill-opacity="1.0" stroke="#000" stroke-width="2.2"/>
<circle cx="234.30" cy="641.55" r="13.6" fill="#f6760e" fill-opacity="0.7" stroke="#000" stroke-width="2.3"/>
<circle cx="336.90" cy="767.80" r="13.6" fill="#f6760e" fill-opacity="0.7" stroke="#000" stroke-width="2.3"/>
<circle cx="349.73" cy="783.58" r="13.6" fill="#f6760e" fill-opacity="0.7" stroke="#000" stroke-width="2.3"/>
<circle cx="354.91" cy="790.02" r="13.6" fill="#f6760e" fill-opacity="0.7" stroke="#000" stroke-width="2.3"/>
<circle cx="371.27" cy="810.09" r="13.6" fill="#f6760e" fill-opacity="0.7" stroke="#000" stroke-width="2.3"/>
<circle cx="439.50" cy="894.05" r="13.6" fill="#f6760e" fill-opacity="0.7" stroke="#000" stroke-width="2.3"/>
<circle cx="473.72" cy="936.22" r="13.6" fill="#f6760e" fill-opacity="0.7" stroke="#000" stroke-width="2.3"/>
<circle cx="490.80" cy="957.17" r="13.6" fill="#f6760e" fill-opacity="0.7" stroke="#000" stroke-width="2.3"/>
<circle cx="516.45" cy="988.74" r="13.6" fill="#f6760e" fill-opacity="0.7" stroke="#000" stroke-width="2.3"/>
<polygon points="354.29,776.53 367.73,803.41 340.85,803.41" fill="#f6760e" fill-opacity="0.7" stroke="#000" stroke-width="2.3" stroke-linejoin="miter" stroke-miterlimit="10"/>
<polygon points="423.39,861.50 436.83,888.38 409.95,888.38" fill="#f6760e" fill-opacity="0.7" stroke="#000" stroke-width="2.3" stroke-linejoin="miter" stroke-miterlimit="10"/>
<polygon points="439.09,880.82 452.53,907.69 425.65,907.69" fill="#f6760e" fill-opacity="0.7" stroke="#000" stroke-width="2.3" stroke-linejoin="miter" stroke-miterlimit="10"/>
<polygon points="448.89,892.94 462.33,919.81 435.45,919.81" fill="#f6760e" fill-opacity="0.7" stroke="#000" stroke-width="2.3" stroke-linejoin="miter" stroke-miterlimit="10"/>
<rect x="186.30" y="87.42" width="461.70" height="403.68" fill="none" stroke="#000" stroke-width="2.1"/>
<line x1="177.30" y1="491.10" x2="186.30" y2="491.10" stroke="#000" stroke-width="2"/>
<line x1="177.30" y1="364.95" x2="186.30" y2="364.95" stroke="#000" stroke-width="2"/>
<line x1="177.30" y1="238.80" x2="186.30" y2="238.80" stroke="#000" stroke-width="2"/>
<line x1="177.30" y1="112.65" x2="186.30" y2="112.65" stroke="#000" stroke-width="2"/>
<line x1="186.30" y1="491.10" x2="186.30" y2="499.60" stroke="#000" stroke-width="2"/>
<line x1="288.90" y1="491.10" x2="288.90" y2="499.60" stroke="#000" stroke-width="2"/>
<line x1="391.50" y1="491.10" x2="391.50" y2="499.60" stroke="#000" stroke-width="2"/>
<line x1="494.10" y1="491.10" x2="494.10" y2="499.60" stroke="#000" stroke-width="2"/>
<line x1="596.70" y1="491.10" x2="596.70" y2="499.60" stroke="#000" stroke-width="2"/>
<rect x="183.00" y="616.30" width="461.70" height="404.00" fill="none" stroke="#000" stroke-width="2.1"/>
<line x1="174.00" y1="1020.30" x2="183.00" y2="1020.30" stroke="#000" stroke-width="2"/>
<line x1="174.00" y1="894.05" x2="183.00" y2="894.05" stroke="#000" stroke-width="2"/>
<line x1="174.00" y1="767.80" x2="183.00" y2="767.80" stroke="#000" stroke-width="2"/>
<line x1="174.00" y1="641.55" x2="183.00" y2="641.55" stroke="#000" stroke-width="2"/>
<line x1="183.00" y1="1020.30" x2="183.00" y2="1028.80" stroke="#000" stroke-width="2"/>
<line x1="285.60" y1="1020.30" x2="285.60" y2="1028.80" stroke="#000" stroke-width="2"/>
<line x1="388.20" y1="1020.30" x2="388.20" y2="1028.80" stroke="#000" stroke-width="2"/>
<line x1="490.80" y1="1020.30" x2="490.80" y2="1028.80" stroke="#000" stroke-width="2"/>
<line x1="593.40" y1="1020.30" x2="593.40" y2="1028.80" stroke="#000" stroke-width="2"/>
<rect x="541.8" y="487.1" width="8.6" height="8.6" fill="#a6a6a6"/>
<rect x="641.2" y="669.2" width="8.5" height="8.5" fill="#c4c4cc" fill-opacity="0.75"/>
<rect x="460.00" y="1227.40" width="113.50" height="32.94" fill="#dae0f0"/>
<rect x="460.00" y="1260.34" width="113.50" height="32.94" fill="#b4c7e7"/>
<rect x="460.00" y="1293.28" width="113.50" height="32.94" fill="#8faadc"/>
<rect x="460.00" y="1326.22" width="113.50" height="32.94" fill="#6199e6"/>
<rect x="460.00" y="1359.16" width="113.50" height="32.94" fill="#3a65b8"/>
<rect x="460.00" y="1392.10" width="113.50" height="32.94" fill="#2c4c8c"/>
<rect x="460.00" y="1425.04" width="113.50" height="32.94" fill="#203a6b"/>
<rect x="460.00" y="1457.98" width="113.50" height="32.94" fill="#1a2852"/>
<line x1="460.00" y1="1260.34" x2="573.50" y2="1260.34" stroke="#111" stroke-width="1.2"/>
<line x1="460.00" y1="1293.28" x2="573.50" y2="1293.28" stroke="#111" stroke-width="1.2"/>
<line x1="460.00" y1="1326.22" x2="573.50" y2="1326.22" stroke="#111" stroke-width="1.2"/>
<line x1="460.00" y1="1359.16" x2="573.50" y2="1359.16" stroke="#111" stroke-width="1.2"/>
<line x1="460.00" y1="1392.10" x2="573.50" y2="1392.10" stroke="#111" stroke-width="1.2"/>
<line x1="460.00" y1="1425.04" x2="573.50" y2="1425.04" stroke="#111" stroke-width="1.2"/>
<line x1="460.00" y1="1457.98" x2="573.50" y2="1457.98" stroke="#111" stroke-width="1.2"/>
<rect x="457.75" y="1225.15" width="118.00" height="268.02" fill="none" stroke="#000" stroke-width="4.5"/>
<line x1="102.6" y1="1210.0" x2="308.4" y2="1210.0" stroke="#000" stroke-width="2.3"/>
<line x1="85.8" y1="1341.3" x2="326" y2="1341.3" stroke="#000" stroke-width="2.3"/>
<line x1="435.8" y1="1209.7" x2="659" y2="1209.7" stroke="#000" stroke-width="2.3"/>
<rect x="55.8" y="1231.5" width="7.8" height="8.5" fill="#e3e3e3"/>
<rect x="51.0" y="1263.7" width="16" height="16" fill="#4472c4" stroke="#000" stroke-width="2.2"/>
<circle cx="52.80" cy="1368.40" r="7.9" fill="#9ac665" fill-opacity="1" stroke="#000" stroke-width="2"/>
<polygon points="53.50,1398.27 61.12,1413.35 45.88,1413.35" fill="#9ac665" fill-opacity="1" stroke="#000" stroke-width="2" stroke-linejoin="miter" stroke-miterlimit="10"/>
<circle cx="52.80" cy="1439.40" r="7.9" fill="#f9a055" fill-opacity="1" stroke="#000" stroke-width="2"/>
<polygon points="53.50,1468.79 61.11,1483.60 45.89,1483.60" fill="#f9a055" fill-opacity="1" stroke="#000" stroke-width="2" stroke-linejoin="miter" stroke-miterlimit="10"/>
<path d="M1.2 27.0 C4 25,8 24,12 24 C19 24,22.6 27,22.6 33 L22.6 50.8 L16.9 50.8 L16.6 47.8 C14.8 50.3,12 51.6,8.4 51.6 C3 51.6,0 48.6,0 44.2 C0 38.2,5.4 35.6,13.4 35.6 L16.6 35.6 L16.6 33.8 C16.6 30.5,14.6 29,11.2 29 C8 29,5 30,2.6 31.4 Z M16.6 39.5 L13.2 39.5 C8.8 39.5,6.4 41,6.4 43.6 C6.4 45.6,7.8 46.9,10 46.9 C12.8 46.9,15.2 45.5,16.6 43.5 Z" fill="#000" fill-rule="evenodd"/>
<text x="266.77" y="26.70" font-size="35.00" font-weight="bold" font-style="normal" fill="#595959" stroke="#595959" stroke-width="0.35" textLength="49.38" lengthAdjust="spacingAndGlyphs">ΔG</text>
<text x="314.96" y="35.50" font-size="19.00" font-weight="bold" font-style="normal" fill="#595959" stroke="#595959" stroke-width="0.35" textLength="44.21" lengthAdjust="spacingAndGlyphs">C ox</text>
<text x="360.42" y="26.70" font-size="35.00" font-weight="bold" font-style="normal" fill="#595959" stroke="#595959" stroke-width="0.35" textLength="25.61" lengthAdjust="spacingAndGlyphs">°,</text>
<text x="392.96" y="26.80" font-size="35.00" font-weight="bold" font-style="normal" fill="#595959" stroke="#595959" stroke-width="0.35" textLength="157.72" lengthAdjust="spacingAndGlyphs">kJ (mol C)</text>
<text x="551.60" y="16.10" font-size="17.00" font-weight="bold" font-style="normal" fill="#595959" stroke="#595959" stroke-width="0.35" textLength="19.85" lengthAdjust="spacingAndGlyphs">-1</text>
<text x="155.77" y="70.30" font-size="26.43" font-weight="normal" font-style="normal" fill="#595959" stroke="#595959" stroke-width="0.30" textLength="43.48" lengthAdjust="spacingAndGlyphs">174</text>
<text x="275.72" y="70.30" font-size="26.43" font-weight="normal" font-style="normal" fill="#595959" stroke="#595959" stroke-width="0.30" textLength="42.98" lengthAdjust="spacingAndGlyphs">117</text>
<text x="402.26" y="70.30" font-size="26.43" font-weight="normal" font-style="normal" fill="#595959" stroke="#595959" stroke-width="0.30" textLength="29.40" lengthAdjust="spacingAndGlyphs">60</text>
<text x="528.72" y="70.30" font-size="26.43" font-weight="normal" font-style="normal" fill="#595959" stroke="#595959" stroke-width="0.30" textLength="15.62" lengthAdjust="spacingAndGlyphs">3</text>
<text x="637.59" y="70.30" font-size="26.43" font-weight="normal" font-style="normal" fill="#595959" stroke="#595959" stroke-width="0.30" textLength="37.46" lengthAdjust="spacingAndGlyphs">-54</text>
<text x="124.61" y="121.80" font-size="26.14" font-weight="normal" font-style="normal" fill="#000" stroke="#000" stroke-width="0.30" textLength="36.34" lengthAdjust="spacingAndGlyphs">2.0</text>
<text x="125.02" y="248.00" font-size="26.14" font-weight="normal" font-style="normal" fill="#000" stroke="#000" stroke-width="0.30" textLength="36.34" lengthAdjust="spacingAndGlyphs">1.5</text>
<text x="124.61" y="374.30" font-size="26.14" font-weight="normal" font-style="normal" fill="#000" stroke="#000" stroke-width="0.30" textLength="36.34" lengthAdjust="spacingAndGlyphs">1.0</text>
<text x="125.02" y="500.50" font-size="26.14" font-weight="normal" font-style="normal" fill="#000" stroke="#000" stroke-width="0.30" textLength="36.34" lengthAdjust="spacingAndGlyphs">0.5</text>
<text x="164.17" y="537.40" font-size="26.14" font-weight="normal" font-style="normal" fill="#000" stroke="#000" stroke-width="0.30" textLength="45.79" lengthAdjust="spacingAndGlyphs">-5.0</text>
<text x="266.58" y="537.40" font-size="26.14" font-weight="normal" font-style="normal" fill="#000" stroke="#000" stroke-width="0.30" textLength="45.48" lengthAdjust="spacingAndGlyphs">-3.0</text>
<text x="368.46" y="537.40" font-size="26.14" font-weight="normal" font-style="normal" fill="#000" stroke="#000" stroke-width="0.30" textLength="46.41" lengthAdjust="spacingAndGlyphs">-1.0</text>
<text x="476.07" y="537.40" font-size="26.14" font-weight="normal" font-style="normal" fill="#000" stroke="#000" stroke-width="0.30" textLength="36.17" lengthAdjust="spacingAndGlyphs">1.0</text>
<text x="579.39" y="537.40" font-size="26.14" font-weight="normal" font-style="normal" fill="#000" stroke="#000" stroke-width="0.30" textLength="36.16" lengthAdjust="spacingAndGlyphs">3.0</text>
<text x="138.57" y="572.80" font-size="35.86" font-weight="bold" font-style="normal" fill="#000" stroke="#000" stroke-width="0.35" textLength="502.78" lengthAdjust="spacingAndGlyphs">Predicted and Measured NOSC</text>
<g transform="translate(56.20,499.60) rotate(-90)"><text x="-2.17" y="0.00" font-size="35.43" font-weight="bold" font-style="normal" fill="#000" stroke="#000" stroke-width="0.35" textLength="401.80" lengthAdjust="spacingAndGlyphs">Predicted and Measured</text></g>
<g transform="translate(104.40,505.40) rotate(-90)"><text x="-0.54" y="0.00" font-size="36.14" font-weight="bold" font-style="normal" fill="#000" stroke="#000" stroke-width="0.35" textLength="125.04" lengthAdjust="spacingAndGlyphs">ARQ (O</text><text x="124.50" y="6.14" font-size="23.49" font-weight="bold" font-style="normal" fill="#000" stroke="#000" stroke-width="0.35" textLength="12.52" lengthAdjust="spacingAndGlyphs">2</text><text x="137.02" y="0.00" font-size="36.14" font-weight="bold" font-style="normal" fill="#000" stroke="#000" stroke-width="0.35" textLength="161.58" lengthAdjust="spacingAndGlyphs">/C) for NH</text><text x="298.60" y="6.14" font-size="23.49" font-weight="bold" font-style="normal" fill="#000" stroke="#000" stroke-width="0.35" textLength="12.52" lengthAdjust="spacingAndGlyphs">3</text><text x="311.12" y="0.00" font-size="36.14" font-weight="bold" font-style="normal" fill="#000" stroke="#000" stroke-width="0.35" textLength="98.12" lengthAdjust="spacingAndGlyphs"> Prod.</text></g>
<text x="437.79" y="203.50" font-size="28.57" font-weight="normal" font-style="italic" fill="#808080" stroke="#808080" stroke-width="0.30" textLength="179.83" lengthAdjust="spacingAndGlyphs">Measured ARQ</text>
<text x="-1.65" y="593.00" font-size="53.00" font-weight="bold" font-style="normal" fill="#000" stroke="#000" stroke-width="0.35" textLength="29.85" lengthAdjust="spacingAndGlyphs">b</text>
<text x="120.61" y="650.70" font-size="26.14" font-weight="normal" font-style="normal" fill="#000" stroke="#000" stroke-width="0.30" textLength="36.34" lengthAdjust="spacingAndGlyphs">2.0</text>
<text x="121.02" y="777.00" font-size="26.14" font-weight="normal" font-style="normal" fill="#000" stroke="#000" stroke-width="0.30" textLength="36.34" lengthAdjust="spacingAndGlyphs">1.5</text>
<text x="120.61" y="903.30" font-size="26.14" font-weight="normal" font-style="normal" fill="#000" stroke="#000" stroke-width="0.30" textLength="36.34" lengthAdjust="spacingAndGlyphs">1.0</text>
<text x="121.02" y="1029.60" font-size="26.14" font-weight="normal" font-style="normal" fill="#000" stroke="#000" stroke-width="0.30" textLength="36.34" lengthAdjust="spacingAndGlyphs">0.5</text>
<text x="160.07" y="1066.30" font-size="26.14" font-weight="normal" font-style="normal" fill="#000" stroke="#000" stroke-width="0.30" textLength="45.90" lengthAdjust="spacingAndGlyphs">-5.0</text>
<text x="263.17" y="1066.30" font-size="26.14" font-weight="normal" font-style="normal" fill="#000" stroke="#000" stroke-width="0.30" textLength="45.69" lengthAdjust="spacingAndGlyphs">-3.0</text>
<text x="365.57" y="1066.30" font-size="26.14" font-weight="normal" font-style="normal" fill="#000" stroke="#000" stroke-width="0.30" textLength="45.90" lengthAdjust="spacingAndGlyphs">-1.0</text>
<text x="473.58" y="1066.30" font-size="26.14" font-weight="normal" font-style="normal" fill="#000" stroke="#000" stroke-width="0.30" textLength="36.07" lengthAdjust="spacingAndGlyphs">1.0</text>
<text x="575.98" y="1066.30" font-size="26.14" font-weight="normal" font-style="normal" fill="#000" stroke="#000" stroke-width="0.30" textLength="36.58" lengthAdjust="spacingAndGlyphs">3.0</text>
<text x="138.27" y="1105.80" font-size="36.00" font-weight="bold" font-style="normal" fill="#000" stroke="#000" stroke-width="0.35" textLength="502.48" lengthAdjust="spacingAndGlyphs">Predicted and Measured NOSC</text>
<g transform="translate(53.00,1029.60) rotate(-90)"><text x="-2.17" y="0.00" font-size="36.00" font-weight="bold" font-style="normal" fill="#000" stroke="#000" stroke-width="0.35" textLength="401.59" lengthAdjust="spacingAndGlyphs">Predicted and Measured</text></g>
<g transform="translate(100.80,1036.40) rotate(-90)"><text x="-0.54" y="0.00" font-size="36.43" font-weight="bold" font-style="normal" fill="#000" stroke="#000" stroke-width="0.35" textLength="125.00" lengthAdjust="spacingAndGlyphs">ARQ (O</text><text x="124.46" y="6.19" font-size="23.68" font-weight="bold" font-style="normal" fill="#000" stroke="#000" stroke-width="0.35" textLength="12.51" lengthAdjust="spacingAndGlyphs">2</text><text x="136.98" y="0.00" font-size="36.43" font-weight="bold" font-style="normal" fill="#000" stroke="#000" stroke-width="0.35" textLength="163.46" lengthAdjust="spacingAndGlyphs">/C) for NO</text><text x="300.44" y="6.19" font-size="23.68" font-weight="bold" font-style="normal" fill="#000" stroke="#000" stroke-width="0.35" textLength="12.51" lengthAdjust="spacingAndGlyphs">3</text><text x="312.95" y="0.00" font-size="36.43" font-weight="bold" font-style="normal" fill="#000" stroke="#000" stroke-width="0.35" textLength="98.09" lengthAdjust="spacingAndGlyphs"> Prod.</text></g>
<text x="67.67" y="1140.40" font-size="28.57" font-weight="normal" font-style="italic" fill="#808080" stroke="#808080" stroke-width="0.30" textLength="110.29" lengthAdjust="spacingAndGlyphs">Reduced</text>
<text x="574.20" y="1140.40" font-size="28.57" font-weight="normal" font-style="italic" fill="#808080" stroke="#808080" stroke-width="0.30" textLength="107.76" lengthAdjust="spacingAndGlyphs">Oxidized</text>
<text x="103.16" y="1205.60" font-size="27.86" font-weight="normal" font-style="normal" fill="#000" stroke="#000" stroke-width="0.30" textLength="204.98" lengthAdjust="spacingAndGlyphs">LC-MS/MS DOM</text>
<text x="73.72" y="1243.40" font-size="25.14" font-weight="normal" font-style="normal" fill="#000" stroke="#000" stroke-width="0.30" textLength="318.07" lengthAdjust="spacingAndGlyphs">Removed DOM Compounds</text>
<text x="73.71" y="1280.70" font-size="25.00" font-weight="normal" font-style="normal" fill="#000" stroke="#000" stroke-width="0.30" textLength="246.51" lengthAdjust="spacingAndGlyphs">Mean Removed DOM</text>
<text x="86.17" y="1337.20" font-size="27.00" font-weight="normal" font-style="normal" fill="#000" stroke="#000" stroke-width="0.30" textLength="239.12" lengthAdjust="spacingAndGlyphs">Model Compounds</text>
<text x="68.10" y="1378.00" font-size="24.86" font-weight="normal" font-style="normal" fill="#000" stroke="#000" stroke-width="0.30" textLength="258.38" lengthAdjust="spacingAndGlyphs">Simple compounds - N</text>
<text x="67.90" y="1413.60" font-size="25.14" font-weight="normal" font-style="normal" fill="#000" stroke="#000" stroke-width="0.30" textLength="281.08" lengthAdjust="spacingAndGlyphs">Complex compounds - N</text>
<text x="68.10" y="1448.80" font-size="25.14" font-weight="normal" font-style="normal" fill="#000" stroke="#000" stroke-width="0.30" textLength="294.59" lengthAdjust="spacingAndGlyphs">Simple compounds - no N</text>
<text x="67.90" y="1484.50" font-size="25.14" font-weight="normal" font-style="normal" fill="#000" stroke="#000" stroke-width="0.30" textLength="317.79" lengthAdjust="spacingAndGlyphs">Complex compounds - no N</text>
<text x="437.17" y="1205.50" font-size="28.29" font-weight="normal" font-style="normal" fill="#000" stroke="#000" stroke-width="0.30" textLength="198.35" lengthAdjust="spacingAndGlyphs">ΔTDAA (μM C d</text>
<text x="635.52" y="1194.75" font-size="16.97" font-weight="normal" font-style="normal" fill="#000" stroke="#000" stroke-width="0.30" textLength="14.72" lengthAdjust="spacingAndGlyphs">-1</text>
<text x="650.24" y="1205.50" font-size="28.29" font-weight="normal" font-style="normal" fill="#000" stroke="#000" stroke-width="0.30" textLength="9.19" lengthAdjust="spacingAndGlyphs">)</text>
<text x="597.19" y="1252.80" font-size="25.71" font-weight="normal" font-style="normal" fill="#000" stroke="#000" stroke-width="0.30" textLength="50.05" lengthAdjust="spacingAndGlyphs">0.04</text>
<text x="589.03" y="1285.80" font-size="25.71" font-weight="normal" font-style="normal" fill="#000" stroke="#000" stroke-width="0.30" textLength="58.61" lengthAdjust="spacingAndGlyphs">-0.01</text>
<text x="589.03" y="1318.80" font-size="25.71" font-weight="normal" font-style="normal" fill="#000" stroke="#000" stroke-width="0.30" textLength="58.61" lengthAdjust="spacingAndGlyphs">-0.02</text>
<text x="589.03" y="1351.80" font-size="25.71" font-weight="normal" font-style="normal" fill="#000" stroke="#000" stroke-width="0.30" textLength="58.61" lengthAdjust="spacingAndGlyphs">-0.03</text>
<text x="588.63" y="1384.80" font-size="25.71" font-weight="normal" font-style="normal" fill="#000" stroke="#000" stroke-width="0.30" textLength="58.61" lengthAdjust="spacingAndGlyphs">-0.04</text>
<text x="589.03" y="1417.80" font-size="25.71" font-weight="normal" font-style="normal" fill="#000" stroke="#000" stroke-width="0.30" textLength="58.61" lengthAdjust="spacingAndGlyphs">-0.05</text>
<text x="589.03" y="1450.80" font-size="25.71" font-weight="normal" font-style="normal" fill="#000" stroke="#000" stroke-width="0.30" textLength="58.61" lengthAdjust="spacingAndGlyphs">-0.06</text>
<text x="589.03" y="1483.80" font-size="25.71" font-weight="normal" font-style="normal" fill="#000" stroke="#000" stroke-width="0.30" textLength="58.61" lengthAdjust="spacingAndGlyphs">-0.07</text>
<text x="195.80" y="679.10" font-size="23.57" font-weight="normal" font-style="normal" fill="#C55A11" stroke="#C55A11" stroke-width="0.30" textLength="94.79" lengthAdjust="spacingAndGlyphs">Methane</text>
<text x="328.63" y="673.90" font-size="23.57" font-weight="normal" font-style="normal" fill="#548235" stroke="#548235" stroke-width="0.30" textLength="64.59" lengthAdjust="spacingAndGlyphs">Lysine</text>
<text x="282.63" y="733.40" font-size="23.57" font-weight="normal" font-style="normal" fill="#548235" stroke="#548235" stroke-width="0.30" textLength="79.29" lengthAdjust="spacingAndGlyphs">Leucine</text>
<text x="434.32" y="663.80" font-size="23.57" font-weight="normal" font-style="normal" fill="#548235" stroke="#548235" stroke-width="0.30" textLength="106.86" lengthAdjust="spacingAndGlyphs">Tripeptide</text>
<text x="495.91" y="717.10" font-size="23.57" font-weight="normal" font-style="normal" fill="#548235" stroke="#548235" stroke-width="0.30" textLength="114.27" lengthAdjust="spacingAndGlyphs">Nucleotide</text>
<text x="443.70" y="741.70" font-size="23.57" font-weight="normal" font-style="normal" fill="#548235" stroke="#548235" stroke-width="0.30" textLength="76.86" lengthAdjust="spacingAndGlyphs">Protein</text>
<text x="449.64" y="770.80" font-size="23.57" font-weight="normal" font-style="normal" fill="#548235" stroke="#548235" stroke-width="0.30" textLength="172.10" lengthAdjust="spacingAndGlyphs">Marine Plankton</text>
<text x="431.49" y="795.30" font-size="23.57" font-weight="normal" font-style="normal" fill="#548235" stroke="#548235" stroke-width="0.30" textLength="162.47" lengthAdjust="spacingAndGlyphs">Marine Bacteria</text>
<text x="473.22" y="811.60" font-size="23.57" font-weight="normal" font-style="normal" fill="#548235" stroke="#548235" stroke-width="0.30" textLength="138.96" lengthAdjust="spacingAndGlyphs">Glutamic acid</text>
<text x="507.30" y="845.80" font-size="23.57" font-weight="normal" font-style="normal" fill="#548235" stroke="#548235" stroke-width="0.30" textLength="130.28" lengthAdjust="spacingAndGlyphs">Aspartic acid</text>
<text x="475.27" y="870.80" font-size="23.57" font-weight="normal" font-style="normal" fill="#548235" stroke="#548235" stroke-width="0.30" textLength="44.03" lengthAdjust="spacingAndGlyphs">RNA</text>
<text x="454.19" y="900.00" font-size="23.57" font-weight="normal" font-style="normal" fill="#548235" stroke="#548235" stroke-width="0.30" textLength="217.24" lengthAdjust="spacingAndGlyphs">N-Acetylglucosamine</text>
<text x="216.67" y="783.40" font-size="23.57" font-weight="normal" font-style="normal" fill="#C55A11" stroke="#C55A11" stroke-width="0.30" textLength="104.55" lengthAdjust="spacingAndGlyphs">1-Hexanol</text>
<text x="277.56" y="816.40" font-size="23.57" font-weight="normal" font-style="normal" fill="#C55A11" stroke="#C55A11" stroke-width="0.30" textLength="49.87" lengthAdjust="spacingAndGlyphs">Lipid</text>
<text x="300.70" y="847.60" font-size="23.57" font-weight="normal" font-style="normal" fill="#C55A11" stroke="#C55A11" stroke-width="0.30" textLength="62.15" lengthAdjust="spacingAndGlyphs">Wood</text>
<text x="337.63" y="922.10" font-size="23.57" font-weight="normal" font-style="normal" fill="#C55A11" stroke="#C55A11" stroke-width="0.30" textLength="70.31" lengthAdjust="spacingAndGlyphs">Tannin</text>
<text x="330.90" y="949.90" font-size="23.57" font-weight="normal" font-style="normal" fill="#C55A11" stroke="#C55A11" stroke-width="0.30" textLength="126.59" lengthAdjust="spacingAndGlyphs">Pyruvic Acid</text>
<text x="359.62" y="977.60" font-size="23.57" font-weight="normal" font-style="normal" fill="#C55A11" stroke="#C55A11" stroke-width="0.30" textLength="103.67" lengthAdjust="spacingAndGlyphs">Citric Acid</text>
<text x="372.74" y="1010.10" font-size="23.57" font-weight="normal" font-style="normal" fill="#C55A11" stroke="#C55A11" stroke-width="0.30" textLength="128.17" lengthAdjust="spacingAndGlyphs">Tartaric Acid</text>
<text transform="translate(270.0,120.3) rotate(49)" font-size="26" font-style="italic" fill="#808080" stroke="#808080" stroke-width="0.3">Predicted RQ</text>
<text transform="translate(452.1,329.2) rotate(49)" font-size="26" font-style="italic" fill="#808080" stroke="#808080" stroke-width="0.3">Predicted RQ</text>
</svg>
</body></html>
